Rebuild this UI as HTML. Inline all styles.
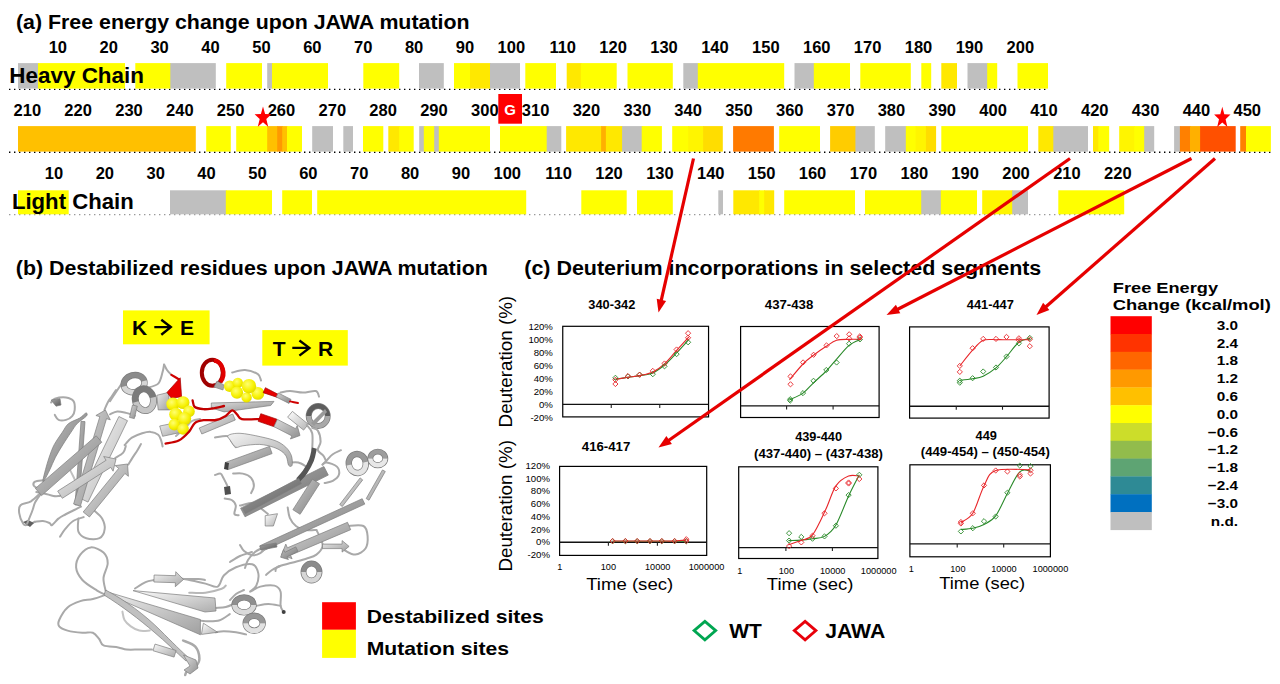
<!DOCTYPE html>
<html><head><meta charset="utf-8"><title>JAWA figure</title>
<style>
html,body{margin:0;padding:0;background:#fff;width:1280px;height:684px;overflow:hidden;}
svg{display:block;}
text{font-family:"Liberation Sans",sans-serif;}
</style></head>
<body>
<svg width="1280" height="684" viewBox="0 0 1280 684">
<rect width="1280" height="684" fill="#fff"/>
<g id="protein">
<defs><radialGradient id="yb" cx="0.4" cy="0.35" r="0.75"><stop offset="0" stop-color="#FFFF70"/><stop offset="0.6" stop-color="#F6F000"/><stop offset="1" stop-color="#D8D000"/></radialGradient><linearGradient id="g70" x1="0" y1="0" x2="1" y2="1"><stop offset="0" stop-color="#a7a7a7"/><stop offset="1" stop-color="#5a5a5a"/></linearGradient><linearGradient id="g8e" x1="0" y1="0" x2="1" y2="1"><stop offset="0" stop-color="#c5c5c5"/><stop offset="1" stop-color="#787878"/></linearGradient><linearGradient id="g8a" x1="0" y1="0" x2="1" y2="1"><stop offset="0" stop-color="#c1c1c1"/><stop offset="1" stop-color="#747474"/></linearGradient><linearGradient id="gc6" x1="0" y1="0" x2="1" y2="1"><stop offset="0" stop-color="#fdfdfd"/><stop offset="1" stop-color="#b0b0b0"/></linearGradient><linearGradient id="ga4" x1="0" y1="0" x2="1" y2="1"><stop offset="0" stop-color="#dbdbdb"/><stop offset="1" stop-color="#8e8e8e"/></linearGradient><linearGradient id="g99" x1="0" y1="0" x2="1" y2="1"><stop offset="0" stop-color="#d0d0d0"/><stop offset="1" stop-color="#838383"/></linearGradient><linearGradient id="gbc" x1="0" y1="0" x2="1" y2="1"><stop offset="0" stop-color="#f3f3f3"/><stop offset="1" stop-color="#a6a6a6"/></linearGradient><linearGradient id="gac" x1="0" y1="0" x2="1" y2="1"><stop offset="0" stop-color="#e3e3e3"/><stop offset="1" stop-color="#969696"/></linearGradient><linearGradient id="ga0" x1="0" y1="0" x2="1" y2="1"><stop offset="0" stop-color="#d7d7d7"/><stop offset="1" stop-color="#8a8a8a"/></linearGradient><linearGradient id="gb4" x1="0" y1="0" x2="1" y2="1"><stop offset="0" stop-color="#ebebeb"/><stop offset="1" stop-color="#9e9e9e"/></linearGradient><linearGradient id="gb8" x1="0" y1="0" x2="1" y2="1"><stop offset="0" stop-color="#efefef"/><stop offset="1" stop-color="#a2a2a2"/></linearGradient><linearGradient id="ga6" x1="0" y1="0" x2="1" y2="1"><stop offset="0" stop-color="#dddddd"/><stop offset="1" stop-color="#909090"/></linearGradient><linearGradient id="g9c" x1="0" y1="0" x2="1" y2="1"><stop offset="0" stop-color="#d3d3d3"/><stop offset="1" stop-color="#868686"/></linearGradient><linearGradient id="gca" x1="0" y1="0" x2="1" y2="1"><stop offset="0" stop-color="#ffffff"/><stop offset="1" stop-color="#b4b4b4"/></linearGradient><linearGradient id="gbd" x1="0" y1="0" x2="1" y2="1"><stop offset="0" stop-color="#f4f4f4"/><stop offset="1" stop-color="#a7a7a7"/></linearGradient><linearGradient id="g7e" x1="0" y1="0" x2="1" y2="1"><stop offset="0" stop-color="#b5b5b5"/><stop offset="1" stop-color="#686868"/></linearGradient><linearGradient id="g6e" x1="0" y1="0" x2="1" y2="1"><stop offset="0" stop-color="#a5a5a5"/><stop offset="1" stop-color="#585858"/></linearGradient><linearGradient id="g95" x1="0" y1="0" x2="1" y2="1"><stop offset="0" stop-color="#cccccc"/><stop offset="1" stop-color="#7f7f7f"/></linearGradient><linearGradient id="gc8" x1="0" y1="0" x2="1" y2="1"><stop offset="0" stop-color="#ffffff"/><stop offset="1" stop-color="#b2b2b2"/></linearGradient><linearGradient id="gb0" x1="0" y1="0" x2="1" y2="1"><stop offset="0" stop-color="#e7e7e7"/><stop offset="1" stop-color="#9a9a9a"/></linearGradient><linearGradient id="ga8" x1="0" y1="0" x2="1" y2="1"><stop offset="0" stop-color="#dfdfdf"/><stop offset="1" stop-color="#929292"/></linearGradient><linearGradient id="gc4" x1="0" y1="0" x2="1" y2="1"><stop offset="0" stop-color="#fbfbfb"/><stop offset="1" stop-color="#aeaeae"/></linearGradient><linearGradient id="gb6" x1="0" y1="0" x2="1" y2="1"><stop offset="0" stop-color="#ededed"/><stop offset="1" stop-color="#a0a0a0"/></linearGradient><linearGradient id="gc0" x1="0" y1="0" x2="1" y2="1"><stop offset="0" stop-color="#f7f7f7"/><stop offset="1" stop-color="#aaaaaa"/></linearGradient></defs>
<path d="M51.1,402.5 C51.7,401.9 52.3,399.5 54.8,398.7 C57.3,397.9 62.9,397.1 66.0,397.5 C69.1,397.9 72.0,399.1 73.5,401.2 C75.0,403.3 74.9,407.4 74.7,409.9 C74.5,412.4 73.7,414.4 72.2,416.1 C70.8,417.8 68.3,419.3 66.0,419.9 C63.7,420.5 60.5,420.7 58.6,419.9 C56.7,419.1 55.4,415.7 54.8,414.9" fill="none" stroke="#a9a9a9" stroke-width="2.0" stroke-linecap="round" stroke-linejoin="round"/>
<polygon points="51.1,400.0 60.0,398.7 61.0,405.0 56.0,406.2" fill="url(#g70)" stroke="#7c7c7c" stroke-width="0.7" stroke-linejoin="round"/>
<path d="M42.9,480.3 C41.6,480.5 36.5,480.7 35.0,481.6 C33.5,482.5 33.1,484.2 33.7,485.5 C34.4,486.8 37.6,488.4 38.9,489.5 C40.2,490.6 41.1,491.7 41.6,492.1" fill="none" stroke="#a9a9a9" stroke-width="2.0" stroke-linecap="round" stroke-linejoin="round"/>
<path d="M41.6,492.1 C39.8,493.6 34.5,499.1 31.0,501.3 C27.5,503.5 22.5,503.3 20.5,505.3 C18.5,507.3 18.8,510.1 19.2,513.2 C19.6,516.3 21.9,521.7 23.2,523.7 C24.5,525.7 25.1,525.3 27.1,525.0 C29.1,524.7 33.7,522.2 35.0,521.7" fill="none" stroke="#a9a9a9" stroke-width="2.0" stroke-linecap="round" stroke-linejoin="round"/>
<path d="M35.0,521.7 C36.3,521.6 40.5,520.8 42.9,521.0 C45.3,521.2 48.0,522.3 49.5,523.0 C51.0,523.7 50.6,525.8 52.1,525.0 C53.6,524.2 56.5,520.1 58.7,518.4 C60.9,516.6 62.9,515.8 65.3,514.5 C67.7,513.2 70.6,511.8 73.2,510.5 C75.8,509.2 79.7,507.2 81.0,506.6" fill="none" stroke="#a9a9a9" stroke-width="2.0" stroke-linecap="round" stroke-linejoin="round"/>
<path d="M23,522 L28,520 L34,523 L30,527 Z" fill="#606060"/>
<path d="M36.3,492.1 C37.6,492.3 41.4,492.8 44.2,493.4 C47.1,494.0 50.8,495.6 53.4,496.0 C56.0,496.4 58.9,496.0 60.0,496.0" fill="none" stroke="#a9a9a9" stroke-width="2.0" stroke-linecap="round" stroke-linejoin="round"/>
<path d="M27.1,523.7 C28.0,521.5 31.1,514.0 32.4,510.5 C33.7,507.0 33.7,505.2 35.0,502.6 C36.3,500.0 39.4,496.0 40.3,494.7" fill="none" stroke="#a9a9a9" stroke-width="2.0" stroke-linecap="round" stroke-linejoin="round"/>
<path d="M69.2,468.4 C69.9,469.7 71.9,473.7 73.2,476.3 C74.5,478.9 76.4,482.9 77.1,484.2" fill="none" stroke="#c0c0c0" stroke-width="2.0" stroke-linecap="round" stroke-linejoin="round"/>
<path d="M60.0,536.8 C60.9,535.5 63.1,531.5 65.3,528.9 C67.5,526.3 70.1,523.0 73.2,521.0 C76.3,519.0 82.0,517.8 83.7,517.1" fill="none" stroke="#a9a9a9" stroke-width="2.0" stroke-linecap="round" stroke-linejoin="round"/>
<path d="M78.4,518.4 C78.4,520.6 77.1,528.3 78.4,531.6 C79.7,534.9 82.8,537.1 86.3,538.2 C89.8,539.3 96.4,539.8 99.5,538.2 C102.6,536.7 104.3,532.2 104.7,528.9 C105.1,525.6 103.8,521.5 102.1,518.4 C100.3,515.3 95.5,511.8 94.2,510.5" fill="none" stroke="#a9a9a9" stroke-width="2.0" stroke-linecap="round" stroke-linejoin="round"/>
<path d="M115.3,457.9 C116.6,457.0 121.5,454.6 123.2,452.6 C125.0,450.6 125.4,447.1 125.8,446.0" fill="none" stroke="#a9a9a9" stroke-width="2.0" stroke-linecap="round" stroke-linejoin="round"/>
<path d="M128.4,464.5 C129.1,463.4 130.9,460.3 132.4,457.9 C133.9,455.5 136.2,452.3 137.6,450.0 C139.0,447.7 140.4,445.0 141.0,444.0" fill="none" stroke="#a9a9a9" stroke-width="2.0" stroke-linecap="round" stroke-linejoin="round"/>
<path d="M110.0,401.2 C111.0,399.7 113.8,395.3 115.8,392.4 C117.8,389.5 119.8,386.3 121.7,383.6 C123.7,380.9 126.5,377.5 127.5,376.3" fill="none" stroke="#a9a9a9" stroke-width="2.0" stroke-linecap="round" stroke-linejoin="round"/>
<path d="M146.5,388.0 C148.4,387.3 155.5,386.3 158.2,383.6 C160.9,380.9 161.6,375.1 162.6,371.9 C163.6,368.7 163.8,365.8 164.1,364.6" fill="none" stroke="#a9a9a9" stroke-width="2.0" stroke-linecap="round" stroke-linejoin="round"/>
<path d="M110.0,414.3 C111.2,413.8 114.6,411.6 117.3,411.4 C120.0,411.2 123.2,412.2 126.1,412.9 C129.0,413.6 133.4,415.3 134.9,415.8" fill="none" stroke="#a9a9a9" stroke-width="2.0" stroke-linecap="round" stroke-linejoin="round"/>
<path d="M124.6,445.0 C125.8,443.8 129.0,439.6 131.9,437.7 C134.8,435.8 139.0,434.3 142.2,433.3 C145.4,432.3 148.2,431.6 150.9,431.9 C153.6,432.1 156.5,433.4 158.2,434.8 C159.9,436.2 160.5,438.7 161.2,440.6 C161.9,442.6 162.4,445.5 162.6,446.5" fill="none" stroke="#a9a9a9" stroke-width="2.0" stroke-linecap="round" stroke-linejoin="round"/>
<path d="M104.4,410.0 C105.0,408.7 106.7,404.3 108.0,402.0 C109.3,399.7 110.7,398.0 112.0,396.0 C113.3,394.0 115.3,391.0 116.0,390.0" fill="none" stroke="#a9a9a9" stroke-width="2.0" stroke-linecap="round" stroke-linejoin="round"/>
<polygon points="79.0,505.1 85.0,421.6 81.0,421.4 75.0,504.9" fill="url(#g8e)" stroke="#7c7c7c" stroke-width="0.7" stroke-linejoin="round"/>
<path d="M45.5,469.6 C46.5,465.7 47.8,461.4 49.2,457.2 C50.7,453.0 52.0,448.8 54.2,444.7 C56.4,440.6 59.9,435.8 62.3,432.3 C64.7,428.8 65.6,426.0 68.5,423.6 C71.4,421.2 76.8,419.8 79.7,418.0 C82.6,416.2 84.8,413.3 85.9,413.0 C87.0,412.7 88.0,414.2 86.5,416.0 C85.0,417.8 79.8,420.9 77.2,423.6 C74.6,426.3 73.4,428.8 71.0,432.3 C68.6,435.8 65.5,440.6 62.9,444.7 C60.3,448.8 57.7,453.0 55.5,457.2 C53.3,461.4 51.8,465.7 49.9,469.6 C48.0,473.5 45.4,478.7 44.2,480.5 C43.0,482.3 42.7,482.3 42.9,480.5 C43.1,478.7 44.5,473.5 45.5,469.6" fill="url(#g8a)" stroke="#7c7c7c" stroke-width="0.7"/>
<polygon points="88.0,502.1 127.5,420.7 118.9,416.5 79.4,497.9" fill="url(#gc6)" stroke="#7c7c7c" stroke-width="0.7" stroke-linejoin="round"/>
<polygon points="80.4,506.0 106.5,418.7 110.3,419.8 105.4,410.0 95.9,415.5 99.8,416.7 73.6,504.0" fill="url(#ga4)" stroke="#7c7c7c" stroke-width="0.7" stroke-linejoin="round"/>
<polygon points="41.6,495.6 101.8,442.2 96.2,435.8 35.4,488.4" fill="url(#g99)" stroke="#7c7c7c" stroke-width="0.7" stroke-linejoin="round"/>
<polygon points="62.3,498.3 110.7,467.4 113.1,471.2 116.0,459.0 103.7,456.5 106.1,460.3 57.7,491.1" fill="url(#gbc)" stroke="#7c7c7c" stroke-width="0.7" stroke-linejoin="round"/>
<polygon points="89.4,517.0 124.9,473.5 128.4,476.3 127.5,464.0 115.2,465.6 118.7,468.4 83.2,512.0" fill="url(#gac)" stroke="#7c7c7c" stroke-width="0.7" stroke-linejoin="round"/>
<g transform="rotate(-15 134.1 383.6)">
<ellipse cx="134.1" cy="383.6" rx="10.5" ry="8.5" fill="none" stroke="#7c7c7c" stroke-width="6.4"/>
<path d="M123.6,383.6 A10.5,8.5 0 0 1 144.6,383.6" fill="none" stroke="#8b8b8b" stroke-width="5"/>
<path d="M144.6,383.6 A10.5,8.5 0 0 1 123.6,383.6" fill="none" stroke="#d6d6d6" stroke-width="5"/>
</g>
<g transform="rotate(-15 144.4 399.7)">
<ellipse cx="144.4" cy="399.7" rx="9" ry="11" fill="none" stroke="#7c7c7c" stroke-width="6.9"/>
<path d="M135.4,399.7 A9,11 0 0 1 153.4,399.7" fill="none" stroke="#7b7b7b" stroke-width="5.5"/>
<path d="M153.4,399.7 A9,11 0 0 1 135.4,399.7" fill="none" stroke="#c6c6c6" stroke-width="5.5"/>
</g>
<polygon points="132.5,405.0 129.5,417.4 134.3,418.6 137.3,406.2" fill="url(#ga0)" stroke="#7c7c7c" stroke-width="0.7" stroke-linejoin="round"/>
<path d="M200.0,419.0 C198.7,419.3 194.5,419.5 192.0,421.0 C189.5,422.5 187.7,425.5 185.0,428.0 C182.3,430.5 177.5,434.7 176.0,436.0" fill="none" stroke="#b0b0b0" stroke-width="2.0" stroke-linecap="round" stroke-linejoin="round"/>
<path d="M232.2,372.5 C234.3,372.1 240.7,369.8 245.0,370.1 C249.3,370.4 255.2,372.4 257.9,374.1 C260.6,375.8 260.5,379.4 261.0,380.5" fill="none" stroke="#a9a9a9" stroke-width="2.0" stroke-linecap="round" stroke-linejoin="round"/>
<path d="M280.4,392.6 C282.0,392.3 286.2,391.0 290.0,391.0 C293.8,391.0 298.6,392.6 302.9,392.6 C307.2,392.6 313.1,390.3 315.8,391.0 C318.5,391.7 318.5,395.7 319.0,396.6" fill="none" stroke="#a9a9a9" stroke-width="2.0" stroke-linecap="round" stroke-linejoin="round"/>
<path d="M164.1,364.6 C164.6,365.5 165.8,368.3 167.0,370.0 C168.2,371.7 170.7,374.1 171.4,374.9" fill="none" stroke="#a9a9a9" stroke-width="2.0" stroke-linecap="round" stroke-linejoin="round"/>
<path d="M171.4,374.9 C172.6,375.6 177.5,378.5 178.7,379.2" fill="none" stroke="#D00000" stroke-width="2.2" stroke-linecap="round" stroke-linejoin="round"/>
<polygon points="156.8,395.3 168.5,392.4 169.9,409.9 158.2,409.9" fill="url(#gb4)" stroke="#7c7c7c" stroke-width="0.7" stroke-linejoin="round"/>
<polygon points="167.0,392.4 180.2,377.8 181.6,396.8 171.4,398.2" fill="#E80000" stroke="#A00000" stroke-width="0.7" stroke-linejoin="round"/>
<polygon points="159.7,426.0 181.6,421.6 183.1,431.9 162.6,436.3" fill="url(#gb8)" stroke="#7c7c7c" stroke-width="0.7" stroke-linejoin="round"/>
<circle cx="172.9" cy="404.1" r="6.6" fill="url(#yb)"/>
<circle cx="183.1" cy="402.6" r="6.4" fill="url(#yb)"/>
<circle cx="189" cy="411.4" r="5.8" fill="url(#yb)"/>
<circle cx="175.8" cy="414.3" r="6.6" fill="url(#yb)"/>
<circle cx="184.6" cy="418.7" r="6.6" fill="url(#yb)"/>
<circle cx="174.3" cy="424.6" r="5.8" fill="url(#yb)"/>
<circle cx="183.1" cy="429" r="5.8" fill="url(#yb)"/>
<ellipse cx="212.3" cy="372.8" rx="10.5" ry="13" fill="none" stroke="#A00000" stroke-width="4"/>
<path d="M214,360.7 A10,12.5 0 0 1 220.5,382" fill="none" stroke="#E00000" stroke-width="4.2"/>
<path d="M217,381 L224,385 L223,390 L214,387 Z" fill="#a8a8a8" stroke="#7c7c7c" stroke-width="0.6"/>
<polygon points="211.3,403.0 274.0,401.4 270.7,405.5 224.1,411.9 211.3,407.9" fill="url(#ga6)" stroke="#7c7c7c" stroke-width="0.7" stroke-linejoin="round"/>
<polygon points="201.8,434.0 235.3,420.0 232.7,414.0 199.2,428.0" fill="url(#gb4)" stroke="#7c7c7c" stroke-width="0.7" stroke-linejoin="round"/>
<path d="M192.6,400.4 C193.0,401.5 193.0,405.5 194.8,407.0 C196.6,408.5 200.7,408.9 203.6,409.2 C206.5,409.4 208.9,409.0 212.3,408.5 C215.7,408.0 222.1,406.4 224.0,406.0" fill="none" stroke="#C00000" stroke-width="2.3" stroke-linecap="round" stroke-linejoin="round"/>
<path d="M165.6,443.6 C167.8,443.1 174.8,442.6 178.7,440.6 C182.6,438.7 186.2,434.8 188.9,431.9 C191.6,429.0 192.4,425.1 194.8,423.1 C197.2,421.2 200.1,420.7 203.6,420.2 C207.1,419.7 212.3,420.7 216.0,420.0 C219.7,419.3 223.0,417.5 225.7,415.9 C228.4,414.3 230.3,410.6 232.2,410.3 C234.1,410.0 235.4,412.8 237.0,414.3 C238.6,415.8 238.1,418.3 241.8,419.1 C245.6,419.9 256.6,419.1 259.5,419.1" fill="none" stroke="#C80000" stroke-width="2.3" stroke-linecap="round" stroke-linejoin="round"/>
<circle cx="229.7" cy="386.2" r="5.8" fill="url(#yb)"/>
<circle cx="237.8" cy="383" r="5.2" fill="url(#yb)"/>
<circle cx="237" cy="392.6" r="6.2" fill="url(#yb)"/>
<circle cx="246.6" cy="397.4" r="5.2" fill="url(#yb)"/>
<circle cx="257.9" cy="393.4" r="6.4" fill="url(#yb)"/>
<circle cx="249" cy="386.2" r="7.2" fill="url(#yb)"/>
<polygon points="263.2,392.7 277.4,397.4 278.6,394.6 265.4,387.7" fill="#E80000" stroke="#A00000" stroke-width="0.7" stroke-linejoin="round"/>
<polygon points="276.2,397.0 289.0,403.4 291.0,399.4 278.2,393.0" fill="url(#g9c)" stroke="#7c7c7c" stroke-width="0.7" stroke-linejoin="round"/>
<path d="M290.0,401.4 C291.3,401.7 296.7,402.7 298.0,403.0" fill="none" stroke="#D00000" stroke-width="2" stroke-linecap="round" stroke-linejoin="round"/>
<polygon points="258.2,421.3 274.3,426.8 276.9,419.2 260.8,413.7" fill="#E00000" stroke="#A00000" stroke-width="0.7" stroke-linejoin="round"/>
<polygon points="273.8,426.6 291.9,435.9 290.4,439.0 300.0,435.5 297.2,425.6 295.6,428.7 277.4,419.4" fill="url(#ga4)" stroke="#7c7c7c" stroke-width="0.7" stroke-linejoin="round"/>
<polygon points="287.6,417.2 303.6,430.1 308.4,424.3 292.4,411.4" fill="url(#gca)" stroke="#7c7c7c" stroke-width="0.7" stroke-linejoin="round"/>
<g transform="rotate(0 318.2 416)">
<ellipse cx="318.2" cy="416" rx="9.5" ry="10" fill="none" stroke="#7c7c7c" stroke-width="5.9"/>
<path d="M308.7,416 A9.5,10 0 0 1 327.7,416" fill="none" stroke="#5d5d5d" stroke-width="4.5"/>
<path d="M327.7,416 A9.5,10 0 0 1 308.7,416" fill="none" stroke="#a8a8a8" stroke-width="4.5"/>
</g>
<path d="M311,423 L325,409 L327,412 L314,426 Z" fill="#9a9a9a"/>
<path d="M215.0,437.5 C217.1,437.3 224.7,435.4 227.5,436.1 C230.3,436.8 230.3,439.9 231.7,441.7 C233.1,443.5 235.1,446.3 235.8,447.2" fill="none" stroke="#a9a9a9" stroke-width="2.0" stroke-linecap="round" stroke-linejoin="round"/>
<path d="M290.0,462.5 C291.4,462.5 295.5,461.8 298.3,462.5 C301.1,463.2 305.3,466.0 306.7,466.7" fill="none" stroke="#a9a9a9" stroke-width="2.0" stroke-linecap="round" stroke-linejoin="round"/>
<path d="M306.7,425.0 C307.6,426.4 311.3,429.1 312.2,433.3 C313.1,437.5 312.2,447.2 312.2,450.0" fill="none" stroke="#a9a9a9" stroke-width="2.0" stroke-linecap="round" stroke-linejoin="round"/>
<path d="M312.2,427.8 C313.1,428.3 316.4,428.3 317.8,430.6 C319.2,432.9 320.6,438.5 320.6,441.7 C320.6,444.9 317.4,447.7 317.8,450.0 C318.2,452.3 321.9,453.8 323.3,455.6 C324.7,457.5 325.6,460.2 326.1,461.1" fill="none" stroke="#a9a9a9" stroke-width="2.0" stroke-linecap="round" stroke-linejoin="round"/>
<path d="M215.0,475.0 C215.9,474.8 219.2,473.1 220.6,473.6 C222.0,474.1 222.4,476.2 223.3,477.8 C224.2,479.4 225.2,481.5 226.1,483.3 C227.0,485.1 228.4,488.0 228.9,488.9" fill="none" stroke="#a9a9a9" stroke-width="2.0" stroke-linecap="round" stroke-linejoin="round"/>
<path d="M233.1,473.6 C234.7,473.6 239.8,472.9 242.8,473.6 C245.8,474.3 249.2,475.7 251.1,477.8 C252.9,479.9 253.9,483.6 253.9,486.1 C253.9,488.7 251.6,491.9 251.1,493.1" fill="none" stroke="#a9a9a9" stroke-width="2.0" stroke-linecap="round" stroke-linejoin="round"/>
<path d="M224.7,498.6 C225.9,498.8 229.8,498.8 231.7,500.0 C233.5,501.2 235.4,503.3 235.8,505.6 C236.2,507.9 233.9,512.3 234.4,513.9 C234.9,515.5 237.9,515.1 238.6,515.3" fill="none" stroke="#a9a9a9" stroke-width="2.0" stroke-linecap="round" stroke-linejoin="round"/>
<path d="M240.0,505.6 C242.3,505.1 250.4,502.4 253.9,502.8 C257.4,503.2 258.5,506.5 260.8,508.3 C263.1,510.1 266.6,513.0 267.8,513.9" fill="none" stroke="#a9a9a9" stroke-width="2.0" stroke-linecap="round" stroke-linejoin="round"/>
<path d="M224,487 L230,486 L231,494 L225,495 Z" fill="#505050"/>
<path d="M341.0,450.2 C339.6,450.9 335.2,452.6 332.8,454.3 C330.4,456.0 328.3,458.8 326.6,460.5 C324.9,462.2 323.2,463.9 322.5,464.6" fill="none" stroke="#a9a9a9" stroke-width="2.0" stroke-linecap="round" stroke-linejoin="round"/>
<path d="M322.5,464.6 C323.2,464.2 324.2,462.2 326.6,462.5 C329.0,462.8 334.8,464.6 336.9,466.6 C338.9,468.7 339.6,472.4 338.9,474.8 C338.2,477.2 335.2,479.5 332.8,480.9 C330.4,482.3 326.0,482.6 324.6,483.0" fill="none" stroke="#a9a9a9" stroke-width="2.0" stroke-linecap="round" stroke-linejoin="round"/>
<path d="M347.1,526.0 C349.8,526.0 360.1,524.3 363.5,526.0 C366.9,527.7 367.3,532.5 367.6,536.2 C367.9,540.0 367.6,545.4 365.5,548.5 C363.4,551.6 358.7,554.3 355.3,554.6 C351.9,554.9 346.7,551.2 345.0,550.5" fill="none" stroke="#a9a9a9" stroke-width="2.0" stroke-linecap="round" stroke-linejoin="round"/>
<path d="M287.7,507.5 C288.1,509.2 288.4,514.7 289.8,517.8 C291.2,520.9 293.2,524.0 295.9,526.0 C298.6,528.0 302.8,529.3 306.2,530.0 C309.6,530.7 314.7,530.0 316.4,530.0" fill="none" stroke="#a9a9a9" stroke-width="2.0" stroke-linecap="round" stroke-linejoin="round"/>
<path d="M316.4,530.0 C317.1,531.4 319.5,535.5 320.5,538.2 C321.5,540.9 323.2,543.7 322.5,546.4 C321.8,549.1 319.1,552.5 316.4,554.6 C313.7,556.7 310.3,557.3 306.2,558.7 C302.1,560.1 296.6,561.4 291.8,562.8 C287.0,564.2 280.2,565.5 277.5,566.9 C274.8,568.3 275.8,570.3 275.5,571.0" fill="none" stroke="#a9a9a9" stroke-width="2.0" stroke-linecap="round" stroke-linejoin="round"/>
<path d="M262.0,548.0 C260.8,548.7 257.3,550.0 255.0,552.0 C252.7,554.0 249.7,557.3 248.0,560.0 C246.3,562.7 245.5,566.7 245.0,568.0" fill="none" stroke="#a9a9a9" stroke-width="2.0" stroke-linecap="round" stroke-linejoin="round"/>
<path d="M230.0,562.0 C231.7,561.0 236.3,557.7 240.0,556.0 C243.7,554.3 250.0,552.7 252.0,552.0" fill="none" stroke="#a9a9a9" stroke-width="2.0" stroke-linecap="round" stroke-linejoin="round"/>
<path d="M266.0,575.0 C267.0,574.2 269.7,571.5 272.0,570.0 C274.3,568.5 278.7,566.7 280.0,566.0" fill="none" stroke="#a9a9a9" stroke-width="2.0" stroke-linecap="round" stroke-linejoin="round"/>
<path d="M228.2,435.4 C229.8,434.2 234.6,433.1 240.0,433.3 C245.4,433.5 254.8,435.5 260.8,436.8 C266.8,438.1 271.9,439.3 276.1,441.0 C280.3,442.7 283.2,444.8 285.8,447.2 C288.4,449.6 290.3,452.6 291.4,455.6 C292.4,458.6 292.6,463.7 292.1,465.3 C291.6,466.9 289.5,466.7 288.6,465.3 C287.7,463.9 287.6,459.2 286.5,456.9 C285.4,454.6 283.9,453.0 281.7,451.4 C279.5,449.8 277.0,448.4 273.3,447.2 C269.6,446.0 264.5,444.6 259.4,444.4 C254.3,444.2 246.7,445.3 242.8,445.8 C238.9,446.3 237.9,448.1 235.8,447.2 C233.7,446.3 231.6,442.3 230.3,440.3 C229.0,438.3 226.6,436.6 228.2,435.4" fill="url(#gbd)" stroke="#7c7c7c" stroke-width="0.7"/>
<polygon points="228.1,469.6 272.1,453.6 269.5,446.4 225.5,462.4" fill="url(#g9c)" stroke="#7c7c7c" stroke-width="0.7" stroke-linejoin="round"/>
<path d="M225,462 L229,463 L228,470 L224,469 Z" fill="#404040"/>
<polygon points="245.0,516.8 328.3,475.1 323.9,466.5 240.6,508.2" fill="url(#g7e)" stroke="#7c7c7c" stroke-width="0.7" stroke-linejoin="round"/>
<path d="M314.4,448.2 C313.9,450.2 313.1,456.0 311.5,460.0 C309.9,464.0 307.2,468.7 305.0,472.0 C302.8,475.3 299.2,478.7 298.0,480.0" fill="none" stroke="#555555" stroke-width="5" stroke-linecap="butt"/>
<polygon points="245.4,513.6 301.4,483.6 298.6,478.4 242.6,508.4" fill="url(#g6e)" stroke="#7c7c7c" stroke-width="0.7" stroke-linejoin="round"/>
<polygon points="300.1,514.3 319.6,483.8 312.4,479.2 292.9,509.7" fill="url(#g95)" stroke="#7c7c7c" stroke-width="0.7" stroke-linejoin="round"/>
<polygon points="262.4,551.2 364.8,504.1 362.2,498.7 259.8,545.8" fill="url(#g8e)" stroke="#7c7c7c" stroke-width="0.7" stroke-linejoin="round"/>
<polygon points="347.5,522.3 287.4,547.8 285.8,544.1 281.6,554.6 292.1,558.8 290.5,555.2 350.7,529.7" fill="url(#ga0)" stroke="#7c7c7c" stroke-width="0.7" stroke-linejoin="round"/>
<polygon points="322.5,548.6 342.1,548.6 342.1,552.1 349.1,546.4 342.1,540.6 342.1,544.1 322.5,544.1" fill="url(#gb4)" stroke="#7c7c7c" stroke-width="0.7" stroke-linejoin="round"/>
<polygon points="265.2,515.7 277.5,513.7 273.4,526.0 265.2,526.0" fill="url(#gc8)" stroke="#7c7c7c" stroke-width="0.7" stroke-linejoin="round"/>
<g transform="rotate(-10 357.3 463.5)">
<ellipse cx="357.3" cy="463.5" rx="8.5" ry="9.5" fill="none" stroke="#7c7c7c" stroke-width="6.4"/>
<path d="M348.8,463.5 A8.5,9.5 0 0 1 365.8,463.5" fill="none" stroke="#999999" stroke-width="5"/>
<path d="M365.8,463.5 A8.5,9.5 0 0 1 348.8,463.5" fill="none" stroke="#e4e4e4" stroke-width="5"/>
</g>
<g transform="rotate(0 377.8 458.4)">
<ellipse cx="377.8" cy="458.4" rx="7.5" ry="6.8" fill="none" stroke="#7c7c7c" stroke-width="5.9"/>
<path d="M370.3,458.4 A7.5,6.8 0 0 1 385.3,458.4" fill="none" stroke="#9d9d9d" stroke-width="4.5"/>
<path d="M385.3,458.4 A7.5,6.8 0 0 1 370.3,458.4" fill="none" stroke="#e8e8e8" stroke-width="4.5"/>
</g>
<polygon points="360.1,477.9 339.7,504.5 342.3,506.5 362.7,479.9" fill="url(#gb0)" stroke="#7c7c7c" stroke-width="0.7" stroke-linejoin="round"/>
<polygon points="382.5,469.9 366.2,498.6 369.0,500.2 385.3,471.5" fill="url(#ga8)" stroke="#7c7c7c" stroke-width="0.7" stroke-linejoin="round"/>
<g transform="rotate(0 311.5 572)">
<ellipse cx="311.5" cy="572" rx="8" ry="8.5" fill="none" stroke="#7c7c7c" stroke-width="5.9"/>
<path d="M303.5,572 A8,8.5 0 0 1 319.5,572" fill="none" stroke="#8b8b8b" stroke-width="4.5"/>
<path d="M319.5,572 A8,8.5 0 0 1 303.5,572" fill="none" stroke="#d6d6d6" stroke-width="4.5"/>
</g>
<path d="M105.6,590.6 C105.2,588.5 103.2,582.5 103.5,577.9 C103.8,573.3 107.7,567.4 107.7,563.2 C107.7,559.0 106.3,555.2 103.5,552.6 C100.7,550.0 94.7,547.0 90.8,547.4 C86.9,547.8 82.8,551.4 80.3,554.7 C77.8,558.0 75.8,563.2 76.1,567.4 C76.4,571.6 78.9,576.1 82.4,580.0 C85.9,583.9 93.2,588.1 97.1,590.6 C101.0,593.1 104.2,594.1 105.6,594.8" fill="none" stroke="#a9a9a9" stroke-width="2.0" stroke-linecap="round" stroke-linejoin="round"/>
<path d="M105.6,594.8 C103.5,595.5 97.1,598.0 92.9,599.0 C88.7,600.0 84.5,599.7 80.3,601.1 C76.1,602.5 71.1,604.2 67.6,607.4 C64.1,610.5 60.6,616.8 59.2,620.0 C57.8,623.2 57.8,624.6 59.2,626.4 C60.6,628.2 63.7,629.5 67.6,630.6 C71.5,631.7 78.2,632.4 82.4,632.7 C86.6,633.1 90.1,631.7 92.9,632.7 C95.7,633.8 97.4,636.9 99.2,639.0 C101.0,641.1 100.3,643.9 103.5,645.3 C106.7,646.7 114.4,646.7 118.2,647.4 C122.0,648.1 123.1,649.1 126.6,649.5 C130.1,649.9 135.1,649.5 139.3,649.5 C143.5,649.5 149.8,649.5 151.9,649.5" fill="none" stroke="#a9a9a9" stroke-width="2.0" stroke-linecap="round" stroke-linejoin="round"/>
<path d="M135.0,588.5 C136.8,587.4 142.4,583.5 145.6,582.1 C148.8,580.7 152.6,580.4 154.0,580.0" fill="none" stroke="#a9a9a9" stroke-width="2.0" stroke-linecap="round" stroke-linejoin="round"/>
<path d="M183.5,579.0 C185.9,579.0 194.6,578.8 198.2,579.0 C201.8,579.2 203.9,579.8 205.0,580.0" fill="none" stroke="#a9a9a9" stroke-width="2.0" stroke-linecap="round" stroke-linejoin="round"/>
<path d="M122.4,611.6 C122.8,613.0 123.1,617.5 124.5,620.0 C125.9,622.5 128.3,624.6 130.8,626.4 C133.3,628.2 136.1,629.9 139.3,630.6 C142.5,631.3 148.1,630.6 149.8,630.6" fill="none" stroke="#c4c4c4" stroke-width="2.0" stroke-linecap="round" stroke-linejoin="round"/>
<path d="M175.0,577.5 C177.0,577.8 182.1,578.5 187.2,579.5 C192.3,580.5 200.4,582.4 205.5,583.6 C210.6,584.8 214.6,588.0 217.7,586.6 C220.8,585.2 220.8,578.7 223.8,575.5 C226.9,572.3 231.3,569.2 236.0,567.3 C240.7,565.4 248.5,563.3 252.2,564.3 C255.9,565.3 257.6,569.8 258.3,573.4 C259.0,577.0 257.7,582.5 256.3,585.6 C255.0,588.7 249.5,591.5 250.2,591.7 C250.9,591.9 256.2,587.6 260.3,586.6 C264.4,585.6 271.1,584.8 274.5,585.6 C277.9,586.5 279.6,588.3 280.6,591.7 C281.6,595.1 280.1,602.5 280.6,605.9 C281.1,609.3 283.2,611.0 283.7,612.0" fill="none" stroke="#a9a9a9" stroke-width="2.0" stroke-linecap="round" stroke-linejoin="round"/>
<circle cx="283.7" cy="612" r="2" fill="#404040"/>
<path d="M189.2,592.7 C191.9,592.7 200.1,593.4 205.5,592.7 C210.9,592.0 218.3,589.9 221.7,588.7 C225.1,587.5 225.1,586.1 225.8,585.6" fill="none" stroke="#b8b8b8" stroke-width="2.0" stroke-linecap="round" stroke-linejoin="round"/>
<path d="M240.0,545.0 C240.7,546.0 242.1,549.4 244.1,551.1 C246.1,552.8 249.5,554.9 252.2,555.2 C254.9,555.5 257.9,554.5 260.3,553.1 C262.7,551.7 265.4,548.0 266.4,547.0" fill="none" stroke="#a9a9a9" stroke-width="2.0" stroke-linecap="round" stroke-linejoin="round"/>
<path d="M215.6,608.0 C217.3,607.8 222.8,607.7 225.8,607.0 C228.9,606.3 232.6,604.4 233.9,603.9" fill="none" stroke="#a9a9a9" stroke-width="2.0" stroke-linecap="round" stroke-linejoin="round"/>
<path d="M195.3,620.2 C197.3,620.4 203.4,621.2 207.5,621.2 C211.6,621.2 216.0,621.4 219.7,620.2 C223.4,619.0 228.1,615.1 229.8,614.1" fill="none" stroke="#a9a9a9" stroke-width="2.0" stroke-linecap="round" stroke-linejoin="round"/>
<path d="M215.6,632.3 C217.0,632.1 220.4,631.3 223.8,631.3 C227.2,631.3 232.3,631.8 236.0,632.3 C239.7,632.8 244.4,634.0 246.1,634.4" fill="none" stroke="#a9a9a9" stroke-width="2.0" stroke-linecap="round" stroke-linejoin="round"/>
<path d="M256.3,605.9 C258.3,605.6 264.3,603.9 268.4,603.9 C272.4,603.9 278.6,605.6 280.6,605.9" fill="none" stroke="#a9a9a9" stroke-width="2.0" stroke-linecap="round" stroke-linejoin="round"/>
<path d="M183.1,640.5 C185.1,641.5 192.6,643.6 195.3,646.6 C198.0,649.6 199.4,655.4 199.4,658.8 C199.4,662.2 197.3,664.9 195.3,666.9 C193.3,668.9 188.9,669.5 187.2,670.9 C185.5,672.2 185.5,674.3 185.2,675.0" fill="none" stroke="#a9a9a9" stroke-width="2.5" stroke-linecap="round" stroke-linejoin="round"/>
<path d="M230.0,600.0 C231.0,599.0 233.7,595.7 236.0,594.0 C238.3,592.3 242.7,590.7 244.0,590.0" fill="none" stroke="#a9a9a9" stroke-width="2.0" stroke-linecap="round" stroke-linejoin="round"/>
<polygon points="133.0,590.6 215.0,598.0 216.0,611.0 205.0,612.0" fill="url(#gc4)" stroke="#7c7c7c" stroke-width="0.7" stroke-linejoin="round"/>
<polygon points="109.8,592.7 200.4,619.5 200.4,634.8 112.0,596.0" fill="url(#gb6)" stroke="#7c7c7c" stroke-width="0.7" stroke-linejoin="round"/>
<path d="M105.6,590 C125,600 145,615 160,630 C172,642 182,652 190,659 L186,661 C176,652 166,642 154,632 C140,620 122,606 104,595 Z" fill="#c0c0c0" stroke="#7c7c7c" stroke-width="0.7"/>
<polygon points="153.9,582.0 175.4,582.7 175.3,586.7 183.5,579.5 175.8,571.7 175.6,575.7 154.1,575.0" fill="url(#gbc)" stroke="#7c7c7c" stroke-width="0.7" stroke-linejoin="round"/>
<polygon points="153.0,650.7 174.1,657.1 176.1,650.5 155.0,644.1" fill="url(#gc0)" stroke="#7c7c7c" stroke-width="0.7" stroke-linejoin="round"/>
<polygon points="203.4,623.2 217.7,632.3 201.4,634.4" fill="url(#gc8)" stroke="#7c7c7c" stroke-width="0.7" stroke-linejoin="round"/>
<polygon points="183.5,655.0 196.0,660.0 198.0,668.0 190.0,674.0 184.0,670.0 190.0,666.0" fill="url(#ga8)" stroke="#7c7c7c" stroke-width="0.7" stroke-linejoin="round"/>
<g transform="rotate(0 244.1 604.9)">
<ellipse cx="244.1" cy="604.9" rx="9.5" ry="7.5" fill="none" stroke="#7c7c7c" stroke-width="6.4"/>
<path d="M234.6,604.9 A9.5,7.5 0 0 1 253.6,604.9" fill="none" stroke="#8f8f8f" stroke-width="5"/>
<path d="M253.6,604.9 A9.5,7.5 0 0 1 234.6,604.9" fill="none" stroke="#dadada" stroke-width="5"/>
</g>
<g transform="rotate(0 254.2 623.2)">
<ellipse cx="254.2" cy="623.2" rx="8.5" ry="7.5" fill="none" stroke="#7c7c7c" stroke-width="6.4"/>
<path d="M245.7,623.2 A8.5,7.5 0 0 1 262.7,623.2" fill="none" stroke="#979797" stroke-width="5"/>
<path d="M262.7,623.2 A8.5,7.5 0 0 1 245.7,623.2" fill="none" stroke="#e2e2e2" stroke-width="5"/>
</g>
<polygon points="260.7,550.0 277.0,547.0 276.2,543.0 259.9,546.0" fill="url(#g70)" stroke="#7c7c7c" stroke-width="0.7" stroke-linejoin="round"/>
<polygon points="295.8,546.9 284.9,552.3 283.5,549.6 280.6,557.2 288.4,559.5 287.1,556.8 298.0,551.3" fill="url(#g8a)" stroke="#7c7c7c" stroke-width="0.7" stroke-linejoin="round"/>
</g>
<text x="16.0" y="28.6" font-size="20" font-weight="bold" textLength="453.5" lengthAdjust="spacingAndGlyphs" fill="#000">(a) Free energy change upon JAWA mutation</text>
<text x="15.8" y="275.4" font-size="20" font-weight="bold" textLength="472" lengthAdjust="spacingAndGlyphs" fill="#000">(b) Destabilized residues upon JAWA mutation</text>
<text x="524.3" y="274.8" font-size="20" font-weight="bold" textLength="517" lengthAdjust="spacingAndGlyphs" fill="#000">(c) Deuterium incorporations in selected segments</text>
<line x1="9" y1="89.4" x2="1048" y2="89.4" stroke="#000" stroke-width="1.4" stroke-dasharray="1.4 3.6"/>
<line x1="9" y1="152.3" x2="1271" y2="152.3" stroke="#000" stroke-width="1.4" stroke-dasharray="1.4 3.6"/>
<line x1="9" y1="214.6" x2="1124" y2="214.6" stroke="#999" stroke-width="1.1" stroke-dasharray="1.4 3.6"/>
<rect x="18.0" y="63.1" width="20.8" height="25.5" fill="#BFBFBF"/>
<rect x="38.0" y="63.1" width="87.0" height="25.5" fill="#FFFF00"/>
<rect x="135.3" y="63.1" width="35.8" height="25.5" fill="#FFFF00"/>
<rect x="170.3" y="63.1" width="45.5" height="25.5" fill="#BFBFBF"/>
<rect x="226.2" y="63.1" width="35.8" height="25.5" fill="#FFFF00"/>
<rect x="267.2" y="63.1" width="5.6" height="25.5" fill="#BFBFBF"/>
<rect x="272.0" y="63.1" width="56.0" height="25.5" fill="#FFFF00"/>
<rect x="363.3" y="63.1" width="35.9" height="25.5" fill="#FFFF00"/>
<rect x="419.0" y="63.1" width="24.8" height="25.5" fill="#BFBFBF"/>
<rect x="454.0" y="63.1" width="16.8" height="25.5" fill="#FFFF00"/>
<rect x="470.0" y="63.1" width="20.8" height="25.5" fill="#FFE800"/>
<rect x="490.0" y="63.1" width="30.0" height="25.5" fill="#BFBFBF"/>
<rect x="525.3" y="63.1" width="30.7" height="25.5" fill="#FFFF00"/>
<rect x="566.7" y="63.1" width="14.9" height="25.5" fill="#FFE800"/>
<rect x="580.8" y="63.1" width="35.9" height="25.5" fill="#FFFF00"/>
<rect x="627.5" y="63.1" width="45.3" height="25.5" fill="#FFFF00"/>
<rect x="683.3" y="63.1" width="15.3" height="25.5" fill="#BFBFBF"/>
<rect x="697.8" y="63.1" width="86.4" height="25.5" fill="#FFFF00"/>
<rect x="794.5" y="63.1" width="20.1" height="25.5" fill="#BFBFBF"/>
<rect x="813.8" y="63.1" width="36.2" height="25.5" fill="#FFFF00"/>
<rect x="860.3" y="63.1" width="50.5" height="25.5" fill="#FFFF00"/>
<rect x="921.3" y="63.1" width="9.9" height="25.5" fill="#FFFF00"/>
<rect x="941.3" y="63.1" width="15.7" height="25.5" fill="#FFE800"/>
<rect x="967.5" y="63.1" width="20.5" height="25.5" fill="#BFBFBF"/>
<rect x="987.2" y="63.1" width="10.0" height="25.5" fill="#FFFF00"/>
<rect x="1017.5" y="63.1" width="30.5" height="25.5" fill="#FFFF00"/>
<rect x="18.0" y="126.1" width="177.8" height="25.5" fill="#FFC000"/>
<rect x="206.2" y="126.1" width="24.6" height="25.5" fill="#FFFF00"/>
<rect x="236.2" y="126.1" width="31.8" height="25.5" fill="#FFFF00"/>
<rect x="267.2" y="126.1" width="10.8" height="25.5" fill="#FFC000"/>
<rect x="277.2" y="126.1" width="5.8" height="25.5" fill="#FF9900"/>
<rect x="282.2" y="126.1" width="5.6" height="25.5" fill="#FFC000"/>
<rect x="287.0" y="126.1" width="15.0" height="25.5" fill="#FFFF00"/>
<rect x="312.2" y="126.1" width="20.8" height="25.5" fill="#BFBFBF"/>
<rect x="343.3" y="126.1" width="9.7" height="25.5" fill="#BFBFBF"/>
<rect x="363.0" y="126.1" width="20.3" height="25.5" fill="#FFFF00"/>
<rect x="388.3" y="126.1" width="11.7" height="25.5" fill="#FFE800"/>
<rect x="399.2" y="126.1" width="14.5" height="25.5" fill="#FFFF00"/>
<rect x="419.2" y="126.1" width="5.4" height="25.5" fill="#BFBFBF"/>
<rect x="423.8" y="126.1" width="11.2" height="25.5" fill="#FFFF00"/>
<rect x="434.2" y="126.1" width="5.4" height="25.5" fill="#BFBFBF"/>
<rect x="438.8" y="126.1" width="51.2" height="25.5" fill="#FFFF00"/>
<rect x="500.0" y="126.1" width="47.5" height="25.5" fill="#FFFF00"/>
<rect x="546.7" y="126.1" width="14.6" height="25.5" fill="#BFBFBF"/>
<rect x="566.1" y="126.1" width="35.8" height="25.5" fill="#FFE800"/>
<rect x="601.1" y="126.1" width="5.6" height="25.5" fill="#FFB000"/>
<rect x="605.9" y="126.1" width="17.0" height="25.5" fill="#FFE800"/>
<rect x="622.1" y="126.1" width="20.4" height="25.5" fill="#BFBFBF"/>
<rect x="641.7" y="126.1" width="20.2" height="25.5" fill="#FFFF00"/>
<rect x="672.2" y="126.1" width="16.7" height="25.5" fill="#FFFF00"/>
<rect x="688.1" y="126.1" width="15.8" height="25.5" fill="#FFF500"/>
<rect x="703.1" y="126.1" width="19.7" height="25.5" fill="#FFDD00"/>
<rect x="733.1" y="126.1" width="40.8" height="25.5" fill="#FF7A00"/>
<rect x="779.2" y="126.1" width="40.8" height="25.5" fill="#FFFF00"/>
<rect x="830.1" y="126.1" width="26.1" height="25.5" fill="#FFCC00"/>
<rect x="855.4" y="126.1" width="19.4" height="25.5" fill="#BFBFBF"/>
<rect x="885.2" y="126.1" width="21.4" height="25.5" fill="#BFBFBF"/>
<rect x="905.8" y="126.1" width="10.6" height="25.5" fill="#FFFF00"/>
<rect x="915.6" y="126.1" width="11.1" height="25.5" fill="#FFF500"/>
<rect x="925.9" y="126.1" width="10.2" height="25.5" fill="#FFDD00"/>
<rect x="941.3" y="126.1" width="86.7" height="25.5" fill="#FFFF00"/>
<rect x="1038.3" y="126.1" width="15.8" height="25.5" fill="#FFE800"/>
<rect x="1053.3" y="126.1" width="34.7" height="25.5" fill="#BFBFBF"/>
<rect x="1093.0" y="126.1" width="6.1" height="25.5" fill="#FFE800"/>
<rect x="1098.3" y="126.1" width="10.9" height="25.5" fill="#FFFF00"/>
<rect x="1119.2" y="126.1" width="15.8" height="25.5" fill="#FFF500"/>
<rect x="1134.2" y="126.1" width="10.8" height="25.5" fill="#FFFF00"/>
<rect x="1144.2" y="126.1" width="10.0" height="25.5" fill="#BFBFBF"/>
<rect x="1174.1" y="126.1" width="6.6" height="25.5" fill="#BFBFBF"/>
<rect x="1179.9" y="126.1" width="10.9" height="25.5" fill="#FF8000"/>
<rect x="1190.0" y="126.1" width="10.9" height="25.5" fill="#FFB000"/>
<rect x="1200.1" y="126.1" width="35.6" height="25.5" fill="#FF5000"/>
<rect x="1240.2" y="126.1" width="6.6" height="25.5" fill="#FF8000"/>
<rect x="1246.0" y="126.1" width="24.9" height="25.5" fill="#FFFF00"/>
<rect x="18.0" y="190.3" width="50.7" height="24.0" fill="#FFFF00"/>
<rect x="170.0" y="190.3" width="56.6" height="24.0" fill="#BFBFBF"/>
<rect x="225.8" y="190.3" width="46.2" height="24.0" fill="#FFFF00"/>
<rect x="282.2" y="190.3" width="29.8" height="24.0" fill="#FFFF00"/>
<rect x="317.2" y="190.3" width="209.0" height="24.0" fill="#FFFF00"/>
<rect x="581.3" y="190.3" width="45.4" height="24.0" fill="#FFFF00"/>
<rect x="637.0" y="190.3" width="35.8" height="24.0" fill="#FFFF00"/>
<rect x="718.3" y="190.3" width="4.7" height="24.0" fill="#BFBFBF"/>
<rect x="733.3" y="190.3" width="26.7" height="24.0" fill="#FFE800"/>
<rect x="759.2" y="190.3" width="5.8" height="24.0" fill="#FFFF00"/>
<rect x="764.2" y="190.3" width="10.0" height="24.0" fill="#FFE800"/>
<rect x="784.2" y="190.3" width="70.8" height="24.0" fill="#FFFF00"/>
<rect x="865.0" y="190.3" width="57.0" height="24.0" fill="#FFFF00"/>
<rect x="921.2" y="190.3" width="20.4" height="24.0" fill="#BFBFBF"/>
<rect x="940.8" y="190.3" width="36.2" height="24.0" fill="#FFFF00"/>
<rect x="982.2" y="190.3" width="30.8" height="24.0" fill="#FFF500"/>
<rect x="1012.2" y="190.3" width="15.8" height="24.0" fill="#BFBFBF"/>
<rect x="1058.3" y="190.3" width="65.9" height="24.0" fill="#FFFF00"/>
<text x="67.0" y="53" font-size="16.5" font-weight="bold" text-anchor="end" fill="#000">10</text>
<text x="117.9" y="53" font-size="16.5" font-weight="bold" text-anchor="end" fill="#000">20</text>
<text x="168.8" y="53" font-size="16.5" font-weight="bold" text-anchor="end" fill="#000">30</text>
<text x="219.7" y="53" font-size="16.5" font-weight="bold" text-anchor="end" fill="#000">40</text>
<text x="270.6" y="53" font-size="16.5" font-weight="bold" text-anchor="end" fill="#000">50</text>
<text x="321.5" y="53" font-size="16.5" font-weight="bold" text-anchor="end" fill="#000">60</text>
<text x="372.4" y="53" font-size="16.5" font-weight="bold" text-anchor="end" fill="#000">70</text>
<text x="423.3" y="53" font-size="16.5" font-weight="bold" text-anchor="end" fill="#000">80</text>
<text x="474.2" y="53" font-size="16.5" font-weight="bold" text-anchor="end" fill="#000">90</text>
<text x="525.1" y="53" font-size="16.5" font-weight="bold" text-anchor="end" fill="#000">100</text>
<text x="576.0" y="53" font-size="16.5" font-weight="bold" text-anchor="end" fill="#000">110</text>
<text x="626.9" y="53" font-size="16.5" font-weight="bold" text-anchor="end" fill="#000">120</text>
<text x="677.8" y="53" font-size="16.5" font-weight="bold" text-anchor="end" fill="#000">130</text>
<text x="728.7" y="53" font-size="16.5" font-weight="bold" text-anchor="end" fill="#000">140</text>
<text x="779.6" y="53" font-size="16.5" font-weight="bold" text-anchor="end" fill="#000">150</text>
<text x="830.5" y="53" font-size="16.5" font-weight="bold" text-anchor="end" fill="#000">160</text>
<text x="881.4" y="53" font-size="16.5" font-weight="bold" text-anchor="end" fill="#000">170</text>
<text x="932.3" y="53" font-size="16.5" font-weight="bold" text-anchor="end" fill="#000">180</text>
<text x="983.2" y="53" font-size="16.5" font-weight="bold" text-anchor="end" fill="#000">190</text>
<text x="1034.1" y="53" font-size="16.5" font-weight="bold" text-anchor="end" fill="#000">200</text>
<text x="41.1" y="115.8" font-size="16.5" font-weight="bold" text-anchor="end" fill="#000">210</text>
<text x="91.9" y="115.8" font-size="16.5" font-weight="bold" text-anchor="end" fill="#000">220</text>
<text x="142.8" y="115.8" font-size="16.5" font-weight="bold" text-anchor="end" fill="#000">230</text>
<text x="193.6" y="115.8" font-size="16.5" font-weight="bold" text-anchor="end" fill="#000">240</text>
<text x="244.4" y="115.8" font-size="16.5" font-weight="bold" text-anchor="end" fill="#000">250</text>
<text x="295.2" y="115.8" font-size="16.5" font-weight="bold" text-anchor="end" fill="#000">260</text>
<text x="346.1" y="115.8" font-size="16.5" font-weight="bold" text-anchor="end" fill="#000">270</text>
<text x="396.9" y="115.8" font-size="16.5" font-weight="bold" text-anchor="end" fill="#000">280</text>
<text x="447.7" y="115.8" font-size="16.5" font-weight="bold" text-anchor="end" fill="#000">290</text>
<text x="498.6" y="115.8" font-size="16.5" font-weight="bold" text-anchor="end" fill="#000">300</text>
<text x="549.4" y="115.8" font-size="16.5" font-weight="bold" text-anchor="end" fill="#000">310</text>
<text x="600.2" y="115.8" font-size="16.5" font-weight="bold" text-anchor="end" fill="#000">320</text>
<text x="651.1" y="115.8" font-size="16.5" font-weight="bold" text-anchor="end" fill="#000">330</text>
<text x="701.9" y="115.8" font-size="16.5" font-weight="bold" text-anchor="end" fill="#000">340</text>
<text x="752.7" y="115.8" font-size="16.5" font-weight="bold" text-anchor="end" fill="#000">350</text>
<text x="803.5" y="115.8" font-size="16.5" font-weight="bold" text-anchor="end" fill="#000">360</text>
<text x="854.4" y="115.8" font-size="16.5" font-weight="bold" text-anchor="end" fill="#000">370</text>
<text x="905.2" y="115.8" font-size="16.5" font-weight="bold" text-anchor="end" fill="#000">380</text>
<text x="956.0" y="115.8" font-size="16.5" font-weight="bold" text-anchor="end" fill="#000">390</text>
<text x="1006.9" y="115.8" font-size="16.5" font-weight="bold" text-anchor="end" fill="#000">400</text>
<text x="1057.7" y="115.8" font-size="16.5" font-weight="bold" text-anchor="end" fill="#000">410</text>
<text x="1108.5" y="115.8" font-size="16.5" font-weight="bold" text-anchor="end" fill="#000">420</text>
<text x="1159.4" y="115.8" font-size="16.5" font-weight="bold" text-anchor="end" fill="#000">430</text>
<text x="1210.2" y="115.8" font-size="16.5" font-weight="bold" text-anchor="end" fill="#000">440</text>
<text x="1261.0" y="115.8" font-size="16.5" font-weight="bold" text-anchor="end" fill="#000">450</text>
<text x="63.1" y="178.6" font-size="16.5" font-weight="bold" text-anchor="end" fill="#000">10</text>
<text x="114.0" y="178.6" font-size="16.5" font-weight="bold" text-anchor="end" fill="#000">20</text>
<text x="164.9" y="178.6" font-size="16.5" font-weight="bold" text-anchor="end" fill="#000">30</text>
<text x="215.7" y="178.6" font-size="16.5" font-weight="bold" text-anchor="end" fill="#000">40</text>
<text x="266.6" y="178.6" font-size="16.5" font-weight="bold" text-anchor="end" fill="#000">50</text>
<text x="317.5" y="178.6" font-size="16.5" font-weight="bold" text-anchor="end" fill="#000">60</text>
<text x="368.4" y="178.6" font-size="16.5" font-weight="bold" text-anchor="end" fill="#000">70</text>
<text x="419.3" y="178.6" font-size="16.5" font-weight="bold" text-anchor="end" fill="#000">80</text>
<text x="470.1" y="178.6" font-size="16.5" font-weight="bold" text-anchor="end" fill="#000">90</text>
<text x="521.0" y="178.6" font-size="16.5" font-weight="bold" text-anchor="end" fill="#000">100</text>
<text x="571.9" y="178.6" font-size="16.5" font-weight="bold" text-anchor="end" fill="#000">110</text>
<text x="622.8" y="178.6" font-size="16.5" font-weight="bold" text-anchor="end" fill="#000">120</text>
<text x="673.7" y="178.6" font-size="16.5" font-weight="bold" text-anchor="end" fill="#000">130</text>
<text x="724.5" y="178.6" font-size="16.5" font-weight="bold" text-anchor="end" fill="#000">140</text>
<text x="775.4" y="178.6" font-size="16.5" font-weight="bold" text-anchor="end" fill="#000">150</text>
<text x="826.3" y="178.6" font-size="16.5" font-weight="bold" text-anchor="end" fill="#000">160</text>
<text x="877.2" y="178.6" font-size="16.5" font-weight="bold" text-anchor="end" fill="#000">170</text>
<text x="928.1" y="178.6" font-size="16.5" font-weight="bold" text-anchor="end" fill="#000">180</text>
<text x="978.9" y="178.6" font-size="16.5" font-weight="bold" text-anchor="end" fill="#000">190</text>
<text x="1029.8" y="178.6" font-size="16.5" font-weight="bold" text-anchor="end" fill="#000">200</text>
<text x="1080.7" y="178.6" font-size="16.5" font-weight="bold" text-anchor="end" fill="#000">210</text>
<text x="1131.6" y="178.6" font-size="16.5" font-weight="bold" text-anchor="end" fill="#000">220</text>
<text x="9.3" y="82.6" font-size="21.8" font-weight="bold" textLength="134.7" lengthAdjust="spacingAndGlyphs" fill="#000">Heavy Chain</text>
<text x="11.9" y="209.2" font-size="21.8" font-weight="bold" textLength="121.8" lengthAdjust="spacingAndGlyphs" fill="#000">Light Chain</text>
<rect x="498.3" y="94.0" width="23.7" height="29.7" fill="#FF0000"/>
<text x="510.2" y="114.6" font-size="15" font-weight="bold" text-anchor="middle" fill="#fff">G</text>
<polygon points="263.0,106.4 265.1,114.0 271.4,114.2 266.3,119.1 268.2,126.8 263.0,122.2 257.8,126.8 259.7,119.1 254.6,114.2 260.9,114.0" fill="#FF0000"/>
<polygon points="1222.3,106.7 1224.3,114.3 1230.5,114.4 1225.6,119.3 1227.4,127.0 1222.3,122.4 1217.2,127.0 1219.0,119.3 1214.1,114.4 1220.3,114.3" fill="#FF0000"/>
<text x="1112.8" y="292.8" font-size="15.2" font-weight="bold" textLength="105.3" lengthAdjust="spacingAndGlyphs" fill="#000">Free Energy</text>
<text x="1112.8" y="309.9" font-size="15.2" font-weight="bold" textLength="158" lengthAdjust="spacingAndGlyphs" fill="#000">Change (kcal/mol)</text>
<rect x="1110.5" y="316.2" width="41.3" height="18.1" fill="#FF0000"/>
<text x="1238.0" y="329.8" font-size="13.3" font-weight="bold" text-anchor="end" textLength="21.3" lengthAdjust="spacingAndGlyphs" fill="#000">3.0</text>
<rect x="1110.5" y="334.0" width="41.3" height="18.1" fill="#FF3300"/>
<text x="1238.0" y="347.6" font-size="13.3" font-weight="bold" text-anchor="end" textLength="21.3" lengthAdjust="spacingAndGlyphs" fill="#000">2.4</text>
<rect x="1110.5" y="351.8" width="41.3" height="18.1" fill="#FF6600"/>
<text x="1238.0" y="365.4" font-size="13.3" font-weight="bold" text-anchor="end" textLength="21.3" lengthAdjust="spacingAndGlyphs" fill="#000">1.8</text>
<rect x="1110.5" y="369.6" width="41.3" height="18.1" fill="#FF9900"/>
<text x="1238.0" y="383.2" font-size="13.3" font-weight="bold" text-anchor="end" textLength="21.3" lengthAdjust="spacingAndGlyphs" fill="#000">1.2</text>
<rect x="1110.5" y="387.4" width="41.3" height="18.1" fill="#FFC000"/>
<text x="1238.0" y="401.0" font-size="13.3" font-weight="bold" text-anchor="end" textLength="21.3" lengthAdjust="spacingAndGlyphs" fill="#000">0.6</text>
<rect x="1110.5" y="405.2" width="41.3" height="18.1" fill="#FFFF00"/>
<text x="1238.0" y="418.8" font-size="13.3" font-weight="bold" text-anchor="end" textLength="21.3" lengthAdjust="spacingAndGlyphs" fill="#000">0.0</text>
<rect x="1110.5" y="423.0" width="41.3" height="18.1" fill="#CCDD2A"/>
<text x="1238.0" y="436.6" font-size="13.3" font-weight="bold" text-anchor="end" textLength="30.2" lengthAdjust="spacingAndGlyphs" fill="#000">−0.6</text>
<rect x="1110.5" y="440.8" width="41.3" height="18.1" fill="#92BC4C"/>
<text x="1238.0" y="454.4" font-size="13.3" font-weight="bold" text-anchor="end" textLength="30.2" lengthAdjust="spacingAndGlyphs" fill="#000">−1.2</text>
<rect x="1110.5" y="458.6" width="41.3" height="18.1" fill="#5EA473"/>
<text x="1238.0" y="472.2" font-size="13.3" font-weight="bold" text-anchor="end" textLength="30.2" lengthAdjust="spacingAndGlyphs" fill="#000">−1.8</text>
<rect x="1110.5" y="476.4" width="41.3" height="18.1" fill="#2E8A95"/>
<text x="1238.0" y="490.0" font-size="13.3" font-weight="bold" text-anchor="end" textLength="30.2" lengthAdjust="spacingAndGlyphs" fill="#000">−2.4</text>
<rect x="1110.5" y="494.2" width="41.3" height="18.1" fill="#0070C0"/>
<text x="1238.0" y="507.8" font-size="13.3" font-weight="bold" text-anchor="end" textLength="30.2" lengthAdjust="spacingAndGlyphs" fill="#000">−3.0</text>
<rect x="1110.5" y="512.0" width="41.3" height="18.1" fill="#BFBFBF"/>
<text x="1238.0" y="525.6" font-size="13.3" font-weight="bold" text-anchor="end" textLength="27.2" lengthAdjust="spacingAndGlyphs" fill="#000">n.d.</text>
<rect x="123.0" y="310.4" width="86.6" height="33.9" fill="#FFFF00"/>
<rect x="262.3" y="330.1" width="85.5" height="35.5" fill="#FFFF00"/>
<text x="131.9" y="335.0" font-size="21" font-weight="bold" fill="#000">K</text>
<path d="M154.3 327.1 H170.5 M161.3 319.7 L170.8 327.1 L161.3 334.8" stroke="#000" stroke-width="2.4" fill="none" stroke-linejoin="miter" stroke-miterlimit="10"/>
<text x="180.10000000000002" y="335.0" font-size="21" font-weight="bold" fill="#000">E</text>
<text x="272.8" y="355.8" font-size="21" font-weight="bold" fill="#000">T</text>
<path d="M292.3 347.9 H309.0 M299.4 340.5 L309.4 347.9 L299.4 355.6" stroke="#000" stroke-width="2.4" fill="none" stroke-linejoin="miter" stroke-miterlimit="10"/>
<text x="318.1" y="355.8" font-size="21" font-weight="bold" fill="#000">R</text>
<rect x="322.1" y="602.2" width="33.8" height="27.6" fill="#FF0000"/>
<rect x="322.1" y="629.8" width="33.8" height="28.1" fill="#FFFF00"/>
<text x="366.7" y="623.3" font-size="18.4" font-weight="bold" textLength="177.1" lengthAdjust="spacingAndGlyphs" fill="#000">Destabilized sites</text>
<text x="366.7" y="655.0" font-size="18.4" font-weight="bold" textLength="142.3" lengthAdjust="spacingAndGlyphs" fill="#000">Mutation sites</text>
<polygon points="694.1,630.6 704.9,621.4 715.6999999999999,630.6 704.9,639.8000000000001" fill="none" stroke="#00A651" stroke-width="2.8"/>
<polygon points="794.3000000000001,630.6 805.1,621.4 815.9,630.6 805.1,639.8000000000001" fill="none" stroke="#E8000B" stroke-width="2.8"/>
<text x="729.2" y="637.5" font-size="20" font-weight="bold" textLength="32.5" lengthAdjust="spacingAndGlyphs" fill="#000">WT</text>
<text x="825.2" y="637.5" font-size="20" font-weight="bold" textLength="60" lengthAdjust="spacingAndGlyphs" fill="#000">JAWA</text>
<rect x="562.75" y="326.3" width="145.8" height="90.6" fill="none" stroke="#000" stroke-width="1.2"/>
<line x1="562.75" y1="404.4" x2="708.5" y2="404.4" stroke="#111" stroke-width="1.4"/>
<line x1="611.25" y1="404.4" x2="611.25" y2="407.9" stroke="#222" stroke-width="1.1"/>
<line x1="659.75" y1="404.4" x2="659.75" y2="407.9" stroke="#222" stroke-width="1.1"/>
<path d="M615.4,379.3 C617.5,379.0 624.0,377.9 628.0,377.3 C632.0,376.7 635.5,376.3 639.6,375.6 C643.7,374.9 648.6,374.7 652.8,372.9 C656.9,371.1 660.5,368.3 664.5,365.0 C668.5,361.7 672.5,357.2 676.6,352.9 C680.7,348.6 686.9,341.6 688.9,339.4" fill="none" stroke="#2A8A2A" stroke-width="1.1" stroke-linejoin="round"/>
<path d="M615.4,379.3 C617.5,379.0 624.0,377.9 628.0,377.3 C632.0,376.7 635.5,376.5 639.6,375.6 C643.7,374.7 648.6,373.9 652.8,371.9 C656.9,369.9 660.5,367.4 664.5,363.8 C668.5,360.2 672.5,354.9 676.6,350.4 C680.7,345.9 686.9,339.1 688.9,336.9" fill="none" stroke="#E8262A" stroke-width="1.1" stroke-linejoin="round"/>
<polygon points="612.8,377.8 615.4,375.2 618.0,377.8 615.4,380.4" fill="none" stroke="#2A8A2A" stroke-width="0.9"/>
<polygon points="625.4,376.4 628.0,373.8 630.6,376.4 628.0,379.0" fill="none" stroke="#2A8A2A" stroke-width="0.9"/>
<polygon points="637.0,374.7 639.6,372.1 642.2,374.7 639.6,377.3" fill="none" stroke="#2A8A2A" stroke-width="0.9"/>
<polygon points="650.2,374.2 652.8,371.6 655.4,374.2 652.8,376.8" fill="none" stroke="#2A8A2A" stroke-width="0.9"/>
<polygon points="661.9,366.3 664.5,363.7 667.1,366.3 664.5,368.9" fill="none" stroke="#2A8A2A" stroke-width="0.9"/>
<polygon points="674.0,354.1 676.6,351.5 679.2,354.1 676.6,356.7" fill="none" stroke="#2A8A2A" stroke-width="0.9"/>
<polygon points="685.5,342.3 688.1,339.7 690.7,342.3 688.1,344.9" fill="none" stroke="#2A8A2A" stroke-width="0.9"/>
<polygon points="612.8,384.0 615.4,381.4 618.0,384.0 615.4,386.6" fill="none" stroke="#E8262A" stroke-width="0.9"/>
<polygon points="612.8,379.8 615.4,377.2 618.0,379.8 615.4,382.4" fill="none" stroke="#E8262A" stroke-width="0.9"/>
<polygon points="625.4,376.1 628.0,373.5 630.6,376.1 628.0,378.7" fill="none" stroke="#E8262A" stroke-width="0.9"/>
<polygon points="637.0,374.7 639.6,372.1 642.2,374.7 639.6,377.3" fill="none" stroke="#E8262A" stroke-width="0.9"/>
<polygon points="650.2,370.9 652.8,368.3 655.4,370.9 652.8,373.5" fill="none" stroke="#E8262A" stroke-width="0.9"/>
<polygon points="661.9,363.5 664.5,360.9 667.1,363.5 664.5,366.1" fill="none" stroke="#E8262A" stroke-width="0.9"/>
<polygon points="674.0,349.5 676.6,346.9 679.2,349.5 676.6,352.1" fill="none" stroke="#E8262A" stroke-width="0.9"/>
<polygon points="685.5,333.2 688.1,330.6 690.7,333.2 688.1,335.8" fill="none" stroke="#E8262A" stroke-width="0.9"/>
<polygon points="685.5,337.7 688.1,335.1 690.7,337.7 688.1,340.3" fill="none" stroke="#E8262A" stroke-width="0.9"/>
<rect x="740.6" y="326.5" width="138.5" height="91.0" fill="none" stroke="#000" stroke-width="1.2"/>
<line x1="740.6" y1="405.9" x2="879.1" y2="405.9" stroke="#111" stroke-width="1.4"/>
<line x1="786.6" y1="405.9" x2="786.6" y2="409.4" stroke="#222" stroke-width="1.1"/>
<line x1="833.1" y1="405.9" x2="833.1" y2="409.4" stroke="#222" stroke-width="1.1"/>
<path d="M789.5,399.8 C791.8,398.7 799.0,395.9 803.0,393.1 C807.0,390.3 809.6,386.5 813.5,382.8 C817.4,379.1 822.4,374.9 826.3,371.0 C830.1,367.1 832.8,363.4 836.6,359.1 C840.4,354.8 845.0,348.7 849.1,345.3 C853.2,341.9 859.3,340.1 861.3,339.0" fill="none" stroke="#2A8A2A" stroke-width="1.1" stroke-linejoin="round"/>
<path d="M789.5,379.8 C791.8,377.2 799.0,368.1 803.0,364.0 C807.0,359.9 809.6,358.1 813.5,355.2 C817.4,352.2 822.4,348.8 826.3,346.3 C830.1,343.8 832.8,341.5 836.6,340.3 C840.4,339.1 845.0,339.5 849.1,339.4 C853.2,339.2 859.3,339.4 861.3,339.4" fill="none" stroke="#E8262A" stroke-width="1.1" stroke-linejoin="round"/>
<polygon points="787.6,400.6 790.2,398.0 792.8,400.6 790.2,403.2" fill="none" stroke="#2A8A2A" stroke-width="0.9"/>
<polygon points="787.6,399.2 790.2,396.6 792.8,399.2 790.2,401.8" fill="none" stroke="#2A8A2A" stroke-width="0.9"/>
<polygon points="800.4,393.1 803.0,390.5 805.6,393.1 803.0,395.7" fill="none" stroke="#2A8A2A" stroke-width="0.9"/>
<polygon points="810.9,380.8 813.5,378.2 816.1,380.8 813.5,383.4" fill="none" stroke="#2A8A2A" stroke-width="0.9"/>
<polygon points="823.7,370.0 826.3,367.4 828.9,370.0 826.3,372.6" fill="none" stroke="#2A8A2A" stroke-width="0.9"/>
<polygon points="834.0,362.5 836.6,359.9 839.2,362.5 836.6,365.1" fill="none" stroke="#2A8A2A" stroke-width="0.9"/>
<polygon points="846.5,343.7 849.1,341.1 851.7,343.7 849.1,346.3" fill="none" stroke="#2A8A2A" stroke-width="0.9"/>
<polygon points="857.3,339.4 859.9,336.8 862.5,339.4 859.9,342.0" fill="none" stroke="#2A8A2A" stroke-width="0.9"/>
<polygon points="787.9,384.3 790.5,381.7 793.1,384.3 790.5,386.9" fill="none" stroke="#E8262A" stroke-width="0.9"/>
<polygon points="787.9,376.4 790.5,373.8 793.1,376.4 790.5,379.0" fill="none" stroke="#E8262A" stroke-width="0.9"/>
<polygon points="800.5,362.4 803.1,359.8 805.7,362.4 803.1,365.0" fill="none" stroke="#E8262A" stroke-width="0.9"/>
<polygon points="811.0,354.8 813.6,352.2 816.2,354.8 813.6,357.4" fill="none" stroke="#E8262A" stroke-width="0.9"/>
<polygon points="823.9,345.4 826.5,342.8 829.1,345.4 826.5,348.0" fill="none" stroke="#E8262A" stroke-width="0.9"/>
<polygon points="834.1,336.1 836.7,333.5 839.3,336.1 836.7,338.7" fill="none" stroke="#E8262A" stroke-width="0.9"/>
<polygon points="846.6,334.3 849.2,331.7 851.8,334.3 849.2,336.9" fill="none" stroke="#E8262A" stroke-width="0.9"/>
<polygon points="846.6,338.4 849.2,335.8 851.8,338.4 849.2,341.0" fill="none" stroke="#E8262A" stroke-width="0.9"/>
<polygon points="857.2,336.4 859.8,333.8 862.4,336.4 859.8,339.0" fill="none" stroke="#E8262A" stroke-width="0.9"/>
<polygon points="857.2,337.5 859.8,334.9 862.4,337.5 859.8,340.1" fill="none" stroke="#E8262A" stroke-width="0.9"/>
<rect x="909.6" y="326.9" width="139.5" height="91.2" fill="none" stroke="#000" stroke-width="1.2"/>
<line x1="909.6" y1="406.25" x2="1049.1" y2="406.25" stroke="#111" stroke-width="1.4"/>
<line x1="956.25" y1="406.25" x2="956.25" y2="409.75" stroke="#222" stroke-width="1.1"/>
<line x1="1002.5" y1="406.25" x2="1002.5" y2="409.75" stroke="#222" stroke-width="1.1"/>
<path d="M959.8,380.3 C961.9,380.1 968.7,379.5 972.6,378.8 C976.5,378.1 979.3,378.0 983.2,376.2 C987.1,374.4 992.1,371.1 996.0,367.9 C999.9,364.6 1002.7,361.0 1006.5,356.7 C1010.3,352.4 1014.9,345.4 1018.9,342.3 C1022.9,339.2 1028.3,339.0 1030.2,338.3" fill="none" stroke="#2A8A2A" stroke-width="1.1" stroke-linejoin="round"/>
<path d="M959.8,365.9 C961.9,363.3 968.7,354.5 972.6,350.2 C976.5,345.9 979.3,342.1 983.2,340.3 C987.1,338.6 992.1,339.8 996.0,339.7 C999.9,339.6 1002.7,339.7 1006.5,339.7 C1010.3,339.7 1014.9,339.7 1018.9,339.7 C1022.9,339.7 1028.3,339.7 1030.2,339.7" fill="none" stroke="#E8262A" stroke-width="1.1" stroke-linejoin="round"/>
<polygon points="957.2,380.7 959.8,378.1 962.4,380.7 959.8,383.3" fill="none" stroke="#2A8A2A" stroke-width="0.9"/>
<polygon points="957.2,382.7 959.8,380.1 962.4,382.7 959.8,385.3" fill="none" stroke="#2A8A2A" stroke-width="0.9"/>
<polygon points="970.0,378.2 972.6,375.6 975.2,378.2 972.6,380.8" fill="none" stroke="#2A8A2A" stroke-width="0.9"/>
<polygon points="980.6,371.5 983.2,368.9 985.8,371.5 983.2,374.1" fill="none" stroke="#2A8A2A" stroke-width="0.9"/>
<polygon points="993.4,367.5 996.0,364.9 998.6,367.5 996.0,370.1" fill="none" stroke="#2A8A2A" stroke-width="0.9"/>
<polygon points="1003.9,356.5 1006.5,353.9 1009.1,356.5 1006.5,359.1" fill="none" stroke="#2A8A2A" stroke-width="0.9"/>
<polygon points="1016.3,343.3 1018.9,340.7 1021.5,343.3 1018.9,345.9" fill="none" stroke="#2A8A2A" stroke-width="0.9"/>
<polygon points="1027.2,337.9 1029.8,335.3 1032.4,337.9 1029.8,340.5" fill="none" stroke="#2A8A2A" stroke-width="0.9"/>
<polygon points="957.2,365.9 959.8,363.3 962.4,365.9 959.8,368.5" fill="none" stroke="#E8262A" stroke-width="0.9"/>
<polygon points="957.2,371.9 959.8,369.3 962.4,371.9 959.8,374.5" fill="none" stroke="#E8262A" stroke-width="0.9"/>
<polygon points="970.0,348.2 972.6,345.6 975.2,348.2 972.6,350.8" fill="none" stroke="#E8262A" stroke-width="0.9"/>
<polygon points="980.6,338.9 983.2,336.3 985.8,338.9 983.2,341.5" fill="none" stroke="#E8262A" stroke-width="0.9"/>
<polygon points="993.4,338.9 996.0,336.3 998.6,338.9 996.0,341.5" fill="none" stroke="#E8262A" stroke-width="0.9"/>
<polygon points="1003.9,336.9 1006.5,334.3 1009.1,336.9 1006.5,339.5" fill="none" stroke="#E8262A" stroke-width="0.9"/>
<polygon points="1016.3,338.3 1018.9,335.7 1021.5,338.3 1018.9,340.9" fill="none" stroke="#E8262A" stroke-width="0.9"/>
<polygon points="1016.3,340.3 1018.9,337.7 1021.5,340.3 1018.9,342.9" fill="none" stroke="#E8262A" stroke-width="0.9"/>
<polygon points="1027.2,339.3 1029.8,336.7 1032.4,339.3 1029.8,341.9" fill="none" stroke="#E8262A" stroke-width="0.9"/>
<polygon points="1027.2,346.2 1029.8,343.6 1032.4,346.2 1029.8,348.8" fill="none" stroke="#E8262A" stroke-width="0.9"/>
<rect x="559.6" y="466.4" width="147.1" height="89.0" fill="none" stroke="#000" stroke-width="1.2"/>
<line x1="559.6" y1="542.2" x2="706.7" y2="542.2" stroke="#111" stroke-width="1.4"/>
<line x1="608.4" y1="542.2" x2="608.4" y2="545.7" stroke="#222" stroke-width="1.1"/>
<line x1="657.4" y1="542.2" x2="657.4" y2="545.7" stroke="#222" stroke-width="1.1"/>
<path d="M612.6,541.3 C614.7,541.3 621.3,541.3 625.4,541.3 C629.5,541.3 633.1,541.3 637.2,541.3 C641.3,541.3 645.9,541.3 650.0,541.3 C654.1,541.3 657.7,541.3 661.8,541.3 C665.9,541.3 670.5,541.3 674.6,541.3 C678.7,541.3 684.3,541.3 686.3,541.3" fill="none" stroke="#2A8A2A" stroke-width="1.1" stroke-linejoin="round"/>
<path d="M612.6,541.0 C614.7,541.0 621.3,541.0 625.4,541.0 C629.5,541.0 633.1,541.0 637.2,541.0 C641.3,541.0 645.9,541.0 650.0,541.0 C654.1,541.0 657.7,541.0 661.8,541.0 C665.9,541.0 670.5,541.2 674.6,541.0 C678.7,540.8 684.3,540.2 686.3,540.0" fill="none" stroke="#E8262A" stroke-width="1.1" stroke-linejoin="round"/>
<polygon points="610.0,541.3 612.6,538.7 615.2,541.3 612.6,543.9" fill="none" stroke="#2A8A2A" stroke-width="0.9"/>
<polygon points="622.8,541.3 625.4,538.7 628.0,541.3 625.4,543.9" fill="none" stroke="#2A8A2A" stroke-width="0.9"/>
<polygon points="634.6,541.3 637.2,538.7 639.8,541.3 637.2,543.9" fill="none" stroke="#2A8A2A" stroke-width="0.9"/>
<polygon points="647.4,541.3 650.0,538.7 652.6,541.3 650.0,543.9" fill="none" stroke="#2A8A2A" stroke-width="0.9"/>
<polygon points="659.2,541.3 661.8,538.7 664.4,541.3 661.8,543.9" fill="none" stroke="#2A8A2A" stroke-width="0.9"/>
<polygon points="672.0,541.3 674.6,538.7 677.2,541.3 674.6,543.9" fill="none" stroke="#2A8A2A" stroke-width="0.9"/>
<polygon points="683.7,541.3 686.3,538.7 688.9,541.3 686.3,543.9" fill="none" stroke="#2A8A2A" stroke-width="0.9"/>
<polygon points="610.0,541.0 612.6,538.4 615.2,541.0 612.6,543.6" fill="none" stroke="#E8262A" stroke-width="0.9"/>
<polygon points="622.8,541.0 625.4,538.4 628.0,541.0 625.4,543.6" fill="none" stroke="#E8262A" stroke-width="0.9"/>
<polygon points="634.6,541.0 637.2,538.4 639.8,541.0 637.2,543.6" fill="none" stroke="#E8262A" stroke-width="0.9"/>
<polygon points="647.4,541.0 650.0,538.4 652.6,541.0 650.0,543.6" fill="none" stroke="#E8262A" stroke-width="0.9"/>
<polygon points="659.2,541.0 661.8,538.4 664.4,541.0 661.8,543.6" fill="none" stroke="#E8262A" stroke-width="0.9"/>
<polygon points="672.0,541.0 674.6,538.4 677.2,541.0 674.6,543.6" fill="none" stroke="#E8262A" stroke-width="0.9"/>
<polygon points="683.7,539.2 686.3,536.6 688.9,539.2 686.3,541.8" fill="none" stroke="#E8262A" stroke-width="0.9"/>
<polygon points="683.7,541.0 686.3,538.4 688.9,541.0 686.3,543.6" fill="none" stroke="#E8262A" stroke-width="0.9"/>
<rect x="738.7" y="466.8" width="139.2" height="91.7" fill="none" stroke="#000" stroke-width="1.2"/>
<line x1="738.7" y1="547.6" x2="877.9" y2="547.6" stroke="#111" stroke-width="1.4"/>
<line x1="785.9" y1="547.6" x2="785.9" y2="551.1" stroke="#222" stroke-width="1.1"/>
<line x1="832.4" y1="547.6" x2="832.4" y2="551.1" stroke="#222" stroke-width="1.1"/>
<path d="M788.4,540.6 C790.5,540.5 796.8,540.4 800.8,540.1 C804.8,539.8 808.5,539.3 812.5,538.7 C816.5,538.1 820.6,538.7 824.5,536.4 C828.4,534.1 831.9,531.8 835.9,525.0 C839.9,518.2 844.7,504.3 848.6,495.9 C852.5,487.5 857.5,478.3 859.3,474.8" fill="none" stroke="#2A8A2A" stroke-width="1.1" stroke-linejoin="round"/>
<path d="M788.4,544.9 C790.5,544.2 796.8,542.3 800.8,540.6 C804.8,538.9 808.4,540.1 812.5,534.9 C816.6,529.7 821.8,517.8 825.7,509.6 C829.6,501.4 832.1,491.5 835.9,485.9 C839.7,480.3 844.7,477.6 848.6,476.0 C852.5,474.4 857.5,476.0 859.3,476.0" fill="none" stroke="#E8262A" stroke-width="1.1" stroke-linejoin="round"/>
<polygon points="786.5,533.2 789.1,530.6 791.7,533.2 789.1,535.8" fill="none" stroke="#2A8A2A" stroke-width="0.9"/>
<polygon points="786.5,540.6 789.1,538.0 791.7,540.6 789.1,543.2" fill="none" stroke="#2A8A2A" stroke-width="0.9"/>
<polygon points="798.7,536.9 801.3,534.3 803.9,536.9 801.3,539.5" fill="none" stroke="#2A8A2A" stroke-width="0.9"/>
<polygon points="809.9,538.7 812.5,536.1 815.1,538.7 812.5,541.3" fill="none" stroke="#2A8A2A" stroke-width="0.9"/>
<polygon points="821.9,536.4 824.5,533.8 827.1,536.4 824.5,539.0" fill="none" stroke="#2A8A2A" stroke-width="0.9"/>
<polygon points="833.3,525.7 835.9,523.1 838.5,525.7 835.9,528.3" fill="none" stroke="#2A8A2A" stroke-width="0.9"/>
<polygon points="846.0,495.1 848.6,492.5 851.2,495.1 848.6,497.7" fill="none" stroke="#2A8A2A" stroke-width="0.9"/>
<polygon points="856.7,474.8 859.3,472.2 861.9,474.8 859.3,477.4" fill="none" stroke="#2A8A2A" stroke-width="0.9"/>
<polygon points="786.5,546.1 789.1,543.5 791.7,546.1 789.1,548.7" fill="none" stroke="#E8262A" stroke-width="0.9"/>
<polygon points="798.7,542.4 801.3,539.8 803.9,542.4 801.3,545.0" fill="none" stroke="#E8262A" stroke-width="0.9"/>
<polygon points="809.9,535.7 812.5,533.1 815.1,535.7 812.5,538.3" fill="none" stroke="#E8262A" stroke-width="0.9"/>
<polygon points="821.9,513.3 824.5,510.7 827.1,513.3 824.5,515.9" fill="none" stroke="#E8262A" stroke-width="0.9"/>
<polygon points="833.3,488.4 835.9,485.8 838.5,488.4 835.9,491.0" fill="none" stroke="#E8262A" stroke-width="0.9"/>
<polygon points="846.0,483.5 848.6,480.9 851.2,483.5 848.6,486.1" fill="none" stroke="#E8262A" stroke-width="0.9"/>
<polygon points="846.0,482.5 848.6,479.9 851.2,482.5 848.6,485.1" fill="none" stroke="#E8262A" stroke-width="0.9"/>
<polygon points="856.7,479.0 859.3,476.4 861.9,479.0 859.3,481.6" fill="none" stroke="#E8262A" stroke-width="0.9"/>
<rect x="909.9" y="464.8" width="140.5" height="92.0" fill="none" stroke="#000" stroke-width="1.2"/>
<line x1="909.9" y1="543.9" x2="1050.4" y2="543.9" stroke="#111" stroke-width="1.4"/>
<line x1="957.2" y1="543.9" x2="957.2" y2="547.4" stroke="#222" stroke-width="1.1"/>
<line x1="1003.7" y1="543.9" x2="1003.7" y2="547.4" stroke="#222" stroke-width="1.1"/>
<path d="M960.9,529.5 C962.9,529.3 968.9,529.0 972.8,528.2 C976.6,527.4 980.2,526.6 984.0,524.5 C987.8,522.4 991.8,521.0 995.7,515.8 C999.6,510.6 1003.4,500.7 1007.4,493.4 C1011.4,486.1 1015.9,475.5 1019.8,471.8 C1023.6,468.1 1028.7,471.1 1030.5,471.0" fill="none" stroke="#2A8A2A" stroke-width="1.1" stroke-linejoin="round"/>
<path d="M960.9,522.5 C962.9,521.0 968.9,519.4 972.8,513.3 C976.6,507.2 980.2,493.0 984.0,485.9 C987.8,478.8 988.0,473.2 995.7,470.5 C1003.5,467.8 1024.7,469.9 1030.5,469.8" fill="none" stroke="#E8262A" stroke-width="1.1" stroke-linejoin="round"/>
<polygon points="958.3,531.4 960.9,528.8 963.5,531.4 960.9,534.0" fill="none" stroke="#2A8A2A" stroke-width="0.9"/>
<polygon points="970.2,528.2 972.8,525.6 975.4,528.2 972.8,530.8" fill="none" stroke="#2A8A2A" stroke-width="0.9"/>
<polygon points="981.4,521.2 984.0,518.6 986.6,521.2 984.0,523.8" fill="none" stroke="#2A8A2A" stroke-width="0.9"/>
<polygon points="993.1,516.5 995.7,513.9 998.3,516.5 995.7,519.1" fill="none" stroke="#2A8A2A" stroke-width="0.9"/>
<polygon points="1004.8,492.7 1007.4,490.1 1010.0,492.7 1007.4,495.3" fill="none" stroke="#2A8A2A" stroke-width="0.9"/>
<polygon points="1017.2,465.6 1019.8,463.0 1022.4,465.6 1019.8,468.2" fill="none" stroke="#2A8A2A" stroke-width="0.9"/>
<polygon points="1027.9,466.1 1030.5,463.5 1033.1,466.1 1030.5,468.7" fill="none" stroke="#2A8A2A" stroke-width="0.9"/>
<polygon points="958.3,522.0 960.9,519.4 963.5,522.0 960.9,524.6" fill="none" stroke="#E8262A" stroke-width="0.9"/>
<polygon points="958.3,523.5 960.9,520.9 963.5,523.5 960.9,526.1" fill="none" stroke="#E8262A" stroke-width="0.9"/>
<polygon points="970.2,513.3 972.8,510.7 975.4,513.3 972.8,515.9" fill="none" stroke="#E8262A" stroke-width="0.9"/>
<polygon points="981.4,485.4 984.0,482.8 986.6,485.4 984.0,488.0" fill="none" stroke="#E8262A" stroke-width="0.9"/>
<polygon points="993.1,470.5 995.7,467.9 998.3,470.5 995.7,473.1" fill="none" stroke="#E8262A" stroke-width="0.9"/>
<polygon points="1004.8,471.5 1007.4,468.9 1010.0,471.5 1007.4,474.1" fill="none" stroke="#E8262A" stroke-width="0.9"/>
<polygon points="1017.2,474.8 1019.8,472.2 1022.4,474.8 1019.8,477.4" fill="none" stroke="#E8262A" stroke-width="0.9"/>
<polygon points="1017.2,476.5 1019.8,473.9 1022.4,476.5 1019.8,479.1" fill="none" stroke="#E8262A" stroke-width="0.9"/>
<polygon points="1027.9,473.5 1030.5,470.9 1033.1,473.5 1030.5,476.1" fill="none" stroke="#E8262A" stroke-width="0.9"/>
<polygon points="1027.9,470.3 1030.5,467.7 1033.1,470.3 1030.5,472.9" fill="none" stroke="#E8262A" stroke-width="0.9"/>
<text x="588.3" y="308.7" font-size="13.5" font-weight="bold" textLength="47" lengthAdjust="spacingAndGlyphs" fill="#000">340-342</text>
<text x="764.8" y="308.8" font-size="13.5" font-weight="bold" textLength="48.5" lengthAdjust="spacingAndGlyphs" fill="#000">437-438</text>
<text x="966.8" y="308.7" font-size="13.5" font-weight="bold" textLength="47" lengthAdjust="spacingAndGlyphs" fill="#000">441-447</text>
<text x="581.8" y="450.6" font-size="13.5" font-weight="bold" textLength="48.5" lengthAdjust="spacingAndGlyphs" fill="#000">416-417</text>
<text x="795.2" y="441.2" font-size="13.5" font-weight="bold" textLength="46.8" lengthAdjust="spacingAndGlyphs" fill="#000">439-440</text>
<text x="754.0" y="458.4" font-size="13.5" font-weight="bold" textLength="129" lengthAdjust="spacingAndGlyphs" fill="#000">(437-440) – (437-438)</text>
<text x="975.6" y="440.4" font-size="13.5" font-weight="bold" textLength="21.3" lengthAdjust="spacingAndGlyphs" fill="#000">449</text>
<text x="920.8" y="456.1" font-size="13.5" font-weight="bold" textLength="129" lengthAdjust="spacingAndGlyphs" fill="#000">(449-454) – (450-454)</text>
<text x="552.9" y="330.0" font-size="9" text-anchor="end" textLength="24.5" lengthAdjust="spacingAndGlyphs" fill="#000">120%</text>
<text x="552.9" y="343.0" font-size="9" text-anchor="end" textLength="24.5" lengthAdjust="spacingAndGlyphs" fill="#000">100%</text>
<text x="552.9" y="356.0" font-size="9" text-anchor="end" textLength="19.2" lengthAdjust="spacingAndGlyphs" fill="#000">80%</text>
<text x="552.9" y="369.0" font-size="9" text-anchor="end" textLength="19.2" lengthAdjust="spacingAndGlyphs" fill="#000">60%</text>
<text x="552.9" y="382.0" font-size="9" text-anchor="end" textLength="19.2" lengthAdjust="spacingAndGlyphs" fill="#000">40%</text>
<text x="552.9" y="395.0" font-size="9" text-anchor="end" textLength="19.2" lengthAdjust="spacingAndGlyphs" fill="#000">20%</text>
<text x="552.9" y="408.0" font-size="9" text-anchor="end" textLength="13.9" lengthAdjust="spacingAndGlyphs" fill="#000">0%</text>
<text x="552.9" y="421.0" font-size="9" text-anchor="end" textLength="22.5" lengthAdjust="spacingAndGlyphs" fill="#000">-20%</text>
<text x="550.0" y="469.0" font-size="9" text-anchor="end" textLength="24.5" lengthAdjust="spacingAndGlyphs" fill="#000">120%</text>
<text x="550.0" y="481.7" font-size="9" text-anchor="end" textLength="24.5" lengthAdjust="spacingAndGlyphs" fill="#000">100%</text>
<text x="550.0" y="494.4" font-size="9" text-anchor="end" textLength="19.2" lengthAdjust="spacingAndGlyphs" fill="#000">80%</text>
<text x="550.0" y="507.1" font-size="9" text-anchor="end" textLength="19.2" lengthAdjust="spacingAndGlyphs" fill="#000">60%</text>
<text x="550.0" y="519.8" font-size="9" text-anchor="end" textLength="19.2" lengthAdjust="spacingAndGlyphs" fill="#000">40%</text>
<text x="550.0" y="532.5" font-size="9" text-anchor="end" textLength="19.2" lengthAdjust="spacingAndGlyphs" fill="#000">20%</text>
<text x="550.0" y="545.1" font-size="9" text-anchor="end" textLength="13.9" lengthAdjust="spacingAndGlyphs" fill="#000">0%</text>
<text x="550.0" y="557.8" font-size="9" text-anchor="end" textLength="22.5" lengthAdjust="spacingAndGlyphs" fill="#000">-20%</text>
<text x="559.9" y="569.6" font-size="9" text-anchor="middle" textLength="5.1" lengthAdjust="spacingAndGlyphs" fill="#000">1</text>
<text x="608.4" y="569.6" font-size="9" text-anchor="middle" textLength="15.3" lengthAdjust="spacingAndGlyphs" fill="#000">100</text>
<text x="657.7" y="569.6" font-size="9" text-anchor="middle" textLength="25.5" lengthAdjust="spacingAndGlyphs" fill="#000">10000</text>
<text x="706.5" y="569.6" font-size="9" text-anchor="middle" textLength="35.7" lengthAdjust="spacingAndGlyphs" fill="#000">1000000</text>
<text x="739.9" y="574.4" font-size="9" text-anchor="middle" textLength="5.1" lengthAdjust="spacingAndGlyphs" fill="#000">1</text>
<text x="786.4" y="574.4" font-size="9" text-anchor="middle" textLength="15.3" lengthAdjust="spacingAndGlyphs" fill="#000">100</text>
<text x="832.7" y="574.4" font-size="9" text-anchor="middle" textLength="25.5" lengthAdjust="spacingAndGlyphs" fill="#000">10000</text>
<text x="878.7" y="574.4" font-size="9" text-anchor="middle" textLength="35.7" lengthAdjust="spacingAndGlyphs" fill="#000">1000000</text>
<text x="911.2" y="571.7" font-size="9" text-anchor="middle" textLength="5.1" lengthAdjust="spacingAndGlyphs" fill="#000">1</text>
<text x="957.9" y="571.7" font-size="9" text-anchor="middle" textLength="15.3" lengthAdjust="spacingAndGlyphs" fill="#000">100</text>
<text x="1003.9" y="571.7" font-size="9" text-anchor="middle" textLength="25.5" lengthAdjust="spacingAndGlyphs" fill="#000">10000</text>
<text x="1050.4" y="571.7" font-size="9" text-anchor="middle" textLength="35.7" lengthAdjust="spacingAndGlyphs" fill="#000">1000000</text>
<text x="586.2" y="590.0" font-size="17.3" textLength="87" lengthAdjust="spacingAndGlyphs" fill="#000">Time (sec)</text>
<text x="766.8" y="590.4" font-size="17.3" textLength="86.5" lengthAdjust="spacingAndGlyphs" fill="#000">Time (sec)</text>
<text x="939.3" y="589.1" font-size="17.3" textLength="85.8" lengthAdjust="spacingAndGlyphs" fill="#000">Time (sec)</text>
<text transform="translate(511.8,427.4) rotate(-90)" x="0" y="0" font-size="18.3" textLength="131.5" lengthAdjust="spacingAndGlyphs">Deuteration (%)</text>
<text transform="translate(511.8,571.6) rotate(-90)" x="0" y="0" font-size="18.3" textLength="131.5" lengthAdjust="spacingAndGlyphs">Deuteration (%)</text>
<line x1="693.5" y1="158.5" x2="660.9" y2="301.8" stroke="#E60000" stroke-width="3.2"/>
<polygon points="658.5,312.5 656.7,298.8 666.1,300.9" fill="#E60000"/>
<line x1="1070" y1="158.5" x2="667.5" y2="441.2" stroke="#E60000" stroke-width="3.2"/>
<polygon points="658.5,447.5 666.4,436.1 671.9,444.0" fill="#E60000"/>
<line x1="1191.5" y1="158.5" x2="896.3" y2="310.0" stroke="#E60000" stroke-width="3.2"/>
<polygon points="886.5,315.0 895.9,304.8 900.3,313.3" fill="#E60000"/>
<line x1="1215" y1="158.5" x2="1044.8" y2="307.7" stroke="#E60000" stroke-width="3.2"/>
<polygon points="1036.5,315.0 1043.1,302.8 1049.4,310.0" fill="#E60000"/>
</svg>
</body></html>
